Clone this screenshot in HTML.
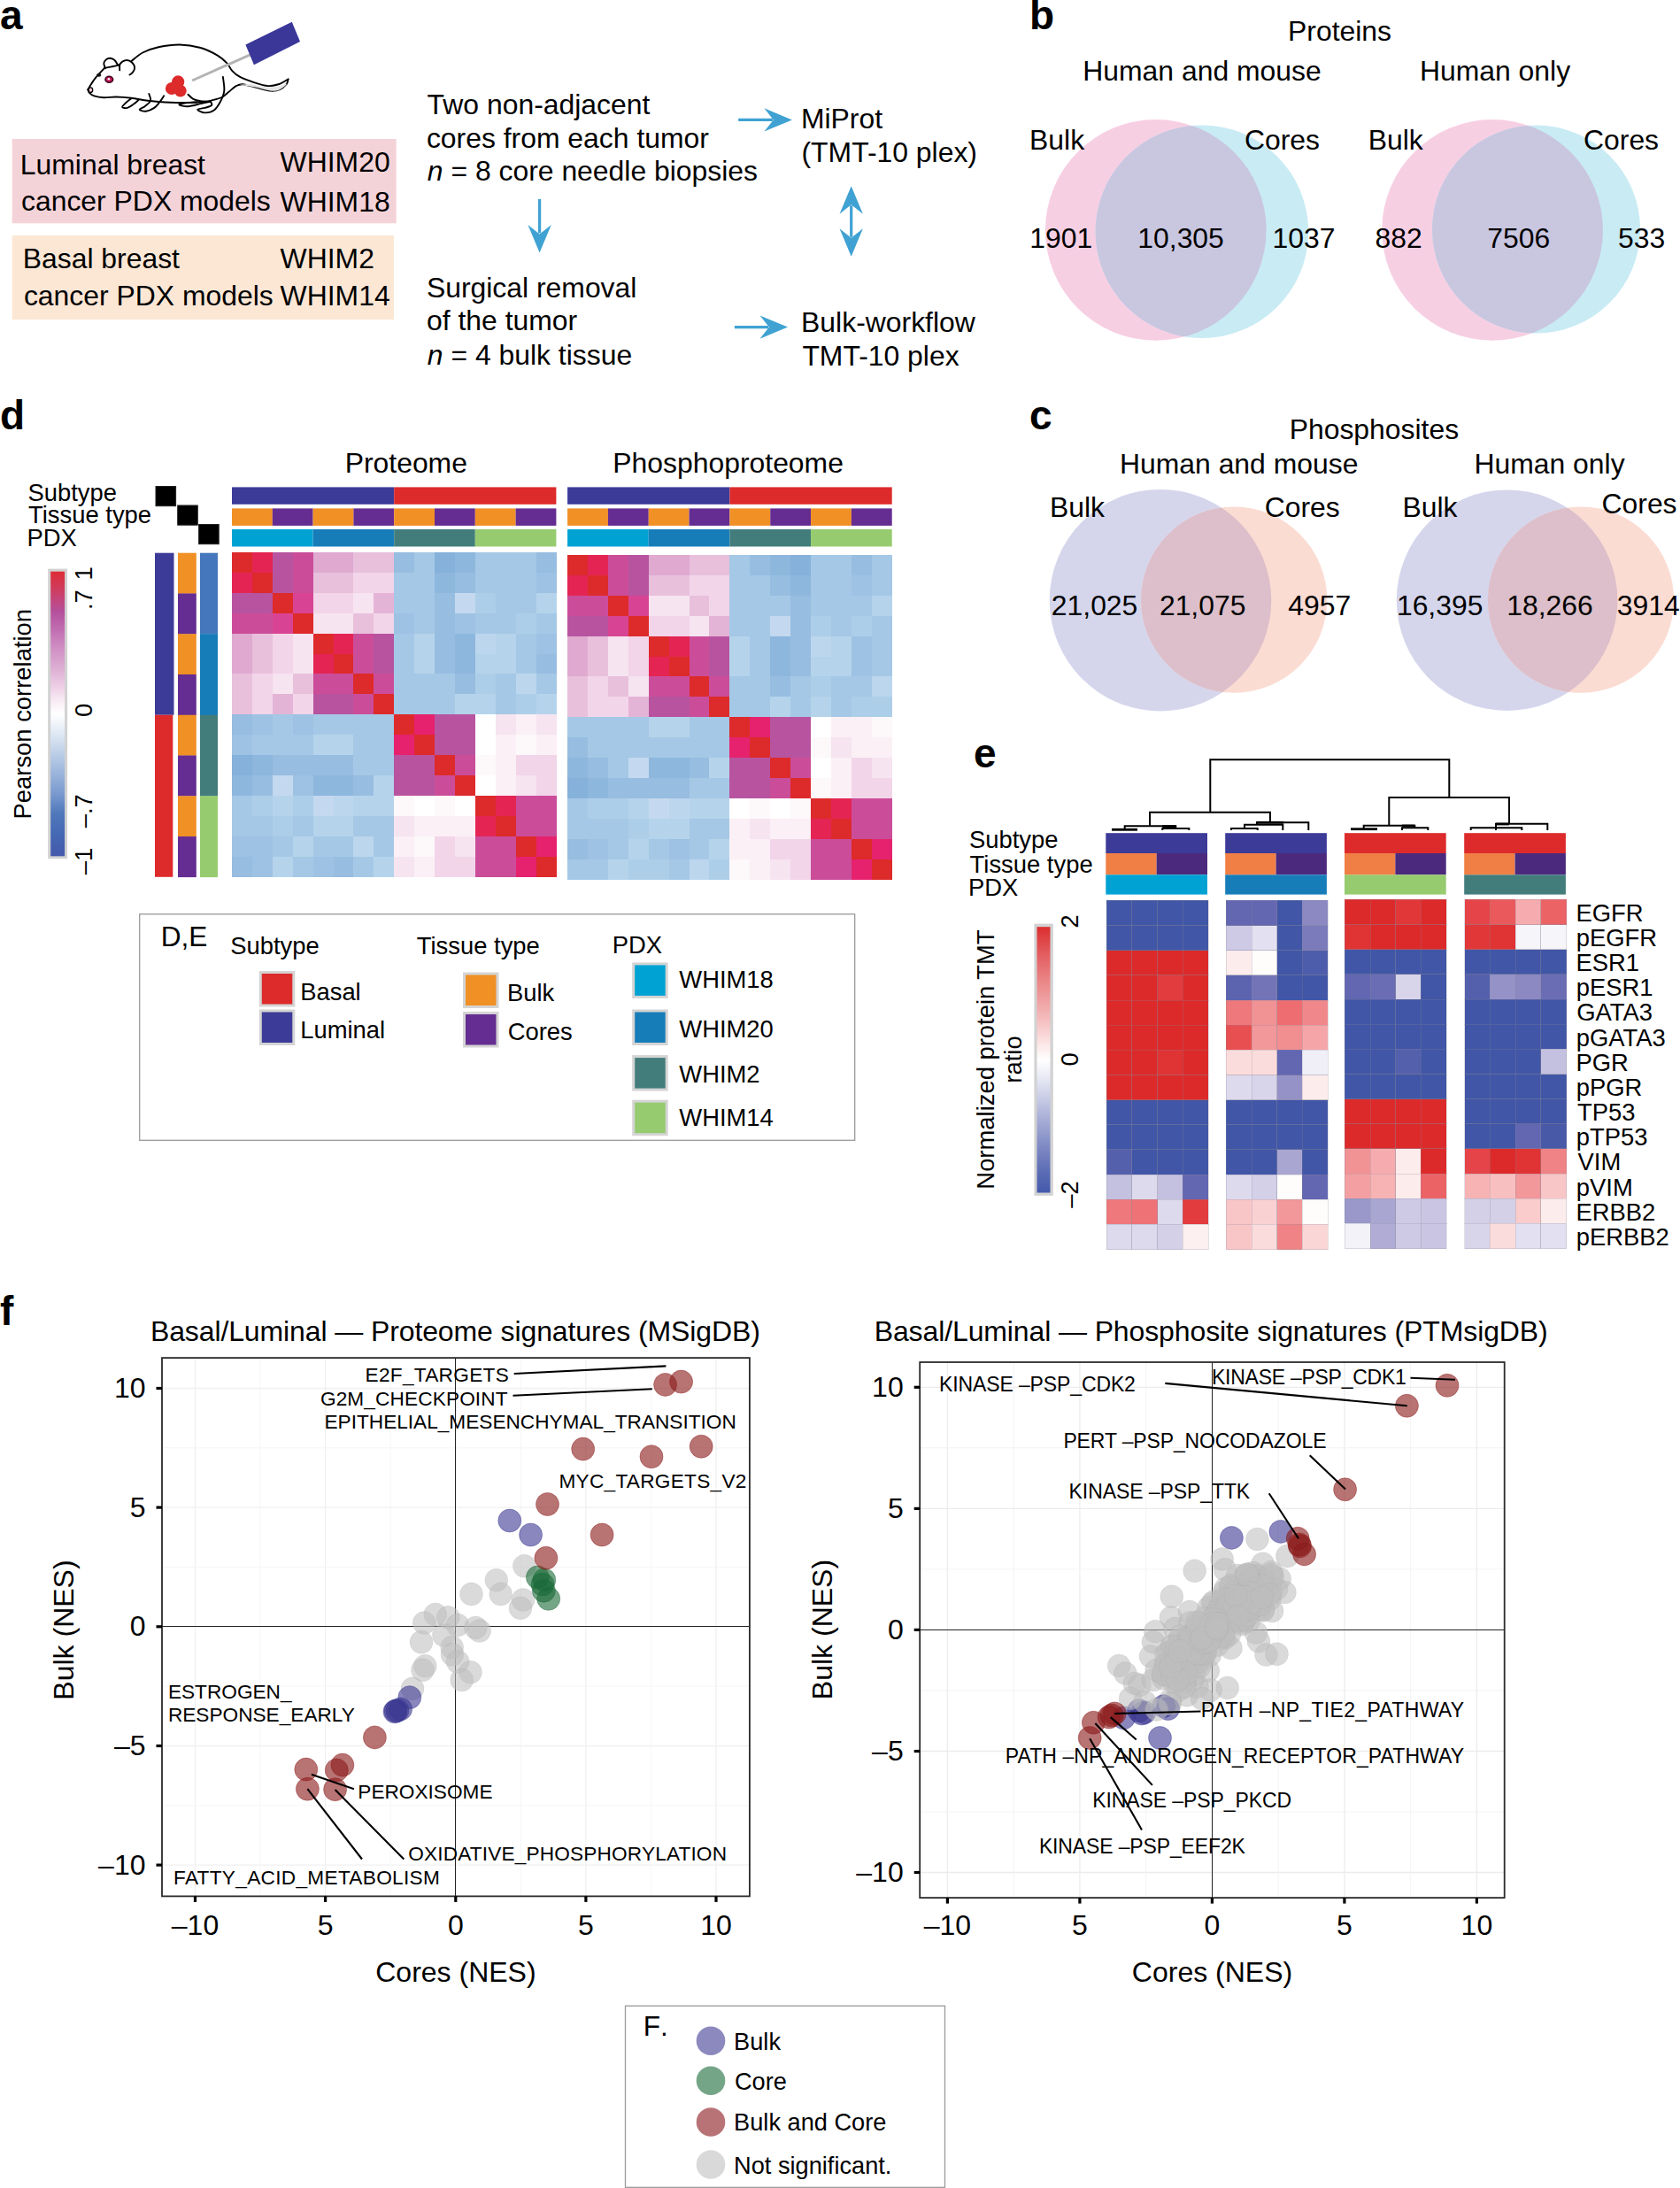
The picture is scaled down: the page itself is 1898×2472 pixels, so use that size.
<!DOCTYPE html>
<html lang="en"><head><meta charset="utf-8"><title>Figure</title>
<style>
html,body{margin:0;padding:0;background:#fff;}
body{width:1898px;height:2472px;overflow:hidden;}
svg{display:block;}
svg text{font-family:"Liberation Sans", sans-serif;}
</style></head><body>
<svg width="1898" height="2472" viewBox="0 0 1898 2472">
<rect width="1898" height="2472" fill="#fff"/>
<g id="panel-a">
<text x="0.0" y="32.9" font-size="46" font-weight="bold">a</text>
<path d="M99.3,101.2 C99.9,100.2 101.3,97.6 102.9,95.2 C104.4,92.9 106.2,90.0 108.8,86.9 C111.4,83.8 116.7,78.4 118.3,76.7" fill="none" stroke="#000" stroke-width="1.9" stroke-linecap="round" stroke-linejoin="round"/>
<path d="M119.0,77.4 C118.8,76.3 116.8,72.9 117.4,71.0 C117.9,69.0 120.4,66.5 122.4,66.0 C124.3,65.4 127.2,66.3 129.0,67.6 C130.9,68.9 132.6,72.8 133.3,73.8" fill="none" stroke="#000" stroke-width="1.9" stroke-linecap="round" stroke-linejoin="round"/>
<path d="M135.2,79.3 C135.3,78.1 134.6,74.0 135.7,72.1 C136.9,70.3 139.9,68.4 142.1,68.1 C144.4,67.8 147.4,69.0 149.0,70.5 C150.7,71.9 152.0,74.8 152.1,76.7 C152.3,78.5 151.0,80.4 150.0,81.7 C149.0,83.0 147.0,84.0 146.4,84.5" fill="none" stroke="#000" stroke-width="1.9" stroke-linecap="round" stroke-linejoin="round"/>
<path d="M119.5,76.7 C120.7,76.4 124.2,75.8 126.7,75.2 C129.1,74.7 133.0,73.7 134.3,73.3" fill="none" stroke="#000" stroke-width="1.9" stroke-linecap="round" stroke-linejoin="round"/>
<path d="M148.6,69.0 C150.7,67.5 156.1,62.1 161.2,59.5 C166.3,56.9 172.1,54.8 179.0,53.3 C186.0,51.8 194.9,50.4 202.9,50.5 C210.8,50.6 219.5,52.0 226.7,54.0 C233.8,56.1 240.8,59.7 245.7,62.6 C250.7,65.5 253.7,68.5 256.4,71.4 C259.2,74.4 260.0,77.7 262.4,80.2 C264.8,82.8 266.7,84.6 270.7,86.7 C274.7,88.8 280.8,91.1 286.2,92.9 C291.5,94.6 297.9,96.8 302.9,97.1 C307.8,97.5 312.2,96.0 316.0,94.8 C319.7,93.5 323.9,90.4 325.5,89.5" fill="none" stroke="#000" stroke-width="1.9" stroke-linecap="round" stroke-linejoin="round"/>
<path d="M325.5,89.5 C325.2,90.4 325.4,92.8 323.8,94.8 C322.2,96.7 319.0,99.9 316.0,101.2 C312.9,102.5 309.8,103.1 305.2,102.6 C300.7,102.2 293.7,99.8 288.6,98.6 C283.4,97.3 277.9,95.5 274.3,95.2 C270.6,95.0 269.2,95.8 266.7,97.1 C264.1,98.5 261.5,101.4 258.8,103.6 C256.1,105.7 253.5,108.5 250.5,110.0 C247.5,111.5 243.3,112.1 241.0,112.9 C238.6,113.6 237.0,114.0 236.2,114.3" fill="none" stroke="#000" stroke-width="1.9" stroke-linecap="round" stroke-linejoin="round"/>
<path d="M270.7,95.7 C273.7,96.2 282.8,97.4 288.6,98.6 C294.3,99.7 300.7,102.2 305.2,102.6 C309.8,103.1 312.9,102.5 316.0,101.2 C319.0,99.9 324.4,95.4 323.8,94.8 C323.2,94.2 316.7,97.1 312.4,97.6 C308.1,98.2 302.9,98.6 298.1,98.1 C293.3,97.6 286.2,95.3 283.8,94.8Z" fill="#e4e4e4" stroke="none"/>
<path d="M99.3,101.2 C99.6,101.8 99.8,103.6 101.0,104.8 C102.1,106.0 103.7,107.4 106.4,108.3 C109.1,109.2 113.0,110.0 117.1,110.2 C121.3,110.4 126.3,109.4 131.4,109.5 C136.6,109.6 142.1,110.0 148.1,110.7 C154.0,111.4 160.8,113.0 167.1,113.8 C173.5,114.6 178.3,115.1 186.2,115.5 C194.1,115.8 206.4,116.1 214.8,116.0 C223.1,115.8 232.6,114.8 236.2,114.5" fill="none" stroke="#000" stroke-width="1.9" stroke-linecap="round" stroke-linejoin="round"/>
<path d="M148.6,111.0 C147.5,111.8 143.9,114.5 142.1,116.2 C140.4,117.9 137.8,120.0 138.1,121.0 C138.4,121.9 141.5,122.5 143.8,121.9 C146.1,121.3 149.6,118.6 151.7,117.1 C153.8,115.7 155.6,113.8 156.4,113.1" fill="none" stroke="#000" stroke-width="1.9" stroke-linecap="round" stroke-linejoin="round"/>
<path d="M168.3,106.0 C168.6,107.3 170.8,111.4 170.0,113.8 C169.2,116.2 165.6,118.6 163.6,120.2 C161.5,121.9 157.4,122.9 157.6,123.8 C157.8,124.7 162.0,126.0 164.8,125.7 C167.5,125.4 171.7,123.6 174.3,121.9 C176.9,120.2 178.4,117.7 180.2,115.5 C182.1,113.2 184.4,109.5 185.2,108.3" fill="none" stroke="#000" stroke-width="1.9" stroke-linecap="round" stroke-linejoin="round"/>
<path d="M212.4,106.7 C213.4,107.5 216.0,110.6 218.3,111.9 C220.7,113.2 223.5,113.8 226.7,114.3 C229.8,114.8 235.6,114.7 237.4,114.8" fill="none" stroke="#000" stroke-width="1.9" stroke-linecap="round" stroke-linejoin="round"/>
<path d="M237.4,114.8 C235.6,115.2 230.8,116.2 226.7,117.1 C222.5,118.1 216.4,120.0 212.4,120.2 C208.3,120.4 202.8,119.0 202.4,118.3 C202.0,117.7 206.7,116.7 210.0,116.2 C213.3,115.7 219.9,115.6 221.9,115.5" fill="none" stroke="#000" stroke-width="1.9" stroke-linecap="round" stroke-linejoin="round"/>
<path d="M238.1,115.0 C238.3,115.7 240.2,117.9 239.0,119.0 C237.9,120.2 234.1,121.1 231.4,121.9 C228.8,122.7 223.1,122.9 223.1,123.8 C223.1,124.7 228.3,127.3 231.4,127.4 C234.6,127.5 239.2,126.5 242.1,124.3 C245.1,122.1 247.4,117.9 249.3,114.3 C251.2,110.6 252.9,106.9 253.3,102.4 C253.8,97.8 252.1,89.5 251.9,86.9" fill="none" stroke="#000" stroke-width="1.9" stroke-linecap="round" stroke-linejoin="round"/>
<ellipse cx="102.4" cy="101.7" rx="2.3" ry="2.8" fill="#f3c6d8" stroke="#000" stroke-width="1.3"/>
<ellipse cx="111.7" cy="84.8" rx="2.6" ry="2" fill="#111"/>
<ellipse cx="123.3" cy="89.8" rx="4.4" ry="3.5" fill="#c2185b" stroke="#3a0a1e" stroke-width="1.5"/>
<circle cx="122.9" cy="89.3" r="1.3" fill="#fff"/>
<circle cx="201.2" cy="92.4" r="7.1" fill="#dd2a2b"/>
<circle cx="194.0" cy="100.0" r="7.1" fill="#dd2a2b"/>
<circle cx="203.8" cy="102.6" r="6.9" fill="#dd2a2b"/>
<circle cx="199.5" cy="98.3" r="7.4" fill="#dd2a2b"/>
<line x1="217.1" y1="91.0" x2="282.6" y2="61.9" stroke="#b3b3b3" stroke-width="3"/>
<polygon points="329.8,24.8 339.0,47.1 286.9,73.3 277.4,50.5" fill="#3a3799"/>
<rect x="13.70" y="157.00" width="434.00" height="95.30" fill="#f4d3d8"/>
<rect x="13.70" y="266.00" width="431.40" height="95.20" fill="#fce7d5"/>
<text x="22.8" y="196.7" font-size="31.9">Luminal breast</text>
<text x="316.6" y="194.3" font-size="31.9">WHIM20</text>
<text x="24.0" y="238.0" font-size="31.9">cancer PDX models</text>
<text x="316.6" y="238.8" font-size="31.9">WHIM18</text>
<text x="25.7" y="302.8" font-size="31.9">Basal breast</text>
<text x="316.6" y="303.2" font-size="31.9">WHIM2</text>
<text x="26.9" y="344.7" font-size="31.9">cancer PDX models</text>
<text x="316.6" y="345.2" font-size="31.9">WHIM14</text>
<text x="482.6" y="129.2" font-size="31.9">Two non-adjacent</text>
<text x="481.9" y="166.7" font-size="31.9">cores from each tumor</text>
<text x="482.8" y="204.4" font-size="31.9"><tspan font-style="italic">n</tspan> = 8 core needle biopsies</text>
<text x="481.9" y="335.5" font-size="31.9">Surgical removal</text>
<text x="482.0" y="373.3" font-size="31.9">of the tumor</text>
<text x="482.8" y="411.5" font-size="31.9"><tspan font-style="italic">n</tspan> = 4 bulk tissue</text>
<text x="904.9" y="144.6" font-size="31.9">MiProt</text>
<text x="905.5" y="183.3" font-size="31.9">(TMT-10 plex)</text>
<text x="905.1" y="375.0" font-size="31.9">Bulk-workflow</text>
<text x="906.4" y="412.5" font-size="31.9">TMT-10 plex</text>
<line x1="834.2" y1="135.4" x2="872.9" y2="135.4" stroke="#3fa2d2" stroke-width="3.2"/>
<path d="M894.9,135.4 L863.4,148.6 L873.8,135.4 L863.4,122.2Z" fill="#3fa2d2"/>
<line x1="829.9" y1="369.6" x2="868.0" y2="369.6" stroke="#3fa2d2" stroke-width="3.2"/>
<path d="M890.0,369.6 L858.5,382.8 L868.9,369.6 L858.5,356.4Z" fill="#3fa2d2"/>
<line x1="609.6" y1="225.0" x2="609.6" y2="263.4" stroke="#3fa2d2" stroke-width="3.2"/>
<path d="M609.6,285.5 L596.4,254.0 L609.6,264.4 L622.8,254.0Z" fill="#3fa2d2"/>
<path d="M961.7,289.8 L974.9,258.3 L961.7,268.7 L948.5,258.3Z" fill="#3fa2d2"/>
<line x1="961.7" y1="267.8" x2="961.7" y2="232.2" stroke="#3fa2d2" stroke-width="3.2"/>
<path d="M961.7,210.2 L974.9,241.7 L961.7,231.3 L948.5,241.7Z" fill="#3fa2d2"/>
</g>
<g id="panel-b">
<text x="1163.0" y="32.9" font-size="46" font-weight="bold">b</text>
<text x="1513.5" y="45.7" font-size="31.9" text-anchor="middle">Proteins</text>
<text x="1358.0" y="90.5" font-size="31.9" text-anchor="middle">Human and mouse</text>
<text x="1689.0" y="90.5" font-size="31.9" text-anchor="middle">Human only</text>
<clipPath id="vc1"><circle cx="1305.8" cy="259.9" r="124.8"/></clipPath>
<circle cx="1305.8" cy="259.9" r="124.8" fill="#f7cfe3"/>
<circle cx="1357.9" cy="261.7" r="120.3" fill="#c9ebf4"/>
<circle cx="1357.9" cy="261.7" r="120.3" fill="#c9c6e0" clip-path="url(#vc1)"/>
<clipPath id="vc2"><circle cx="1686.1" cy="259.9" r="124.8"/></clipPath>
<circle cx="1686.1" cy="259.9" r="124.8" fill="#f7cfe3"/>
<circle cx="1735.5" cy="259.0" r="117.5" fill="#c9ebf4"/>
<circle cx="1735.5" cy="259.0" r="117.5" fill="#c9c6e0" clip-path="url(#vc2)"/>
<text x="1163.1" y="169.1" font-size="31.9">Bulk</text>
<text x="1405.9" y="169.1" font-size="31.9">Cores</text>
<text x="1545.7" y="169.1" font-size="31.9">Bulk</text>
<text x="1789.0" y="169.1" font-size="31.9">Cores</text>
<text x="1163.3" y="280.4" font-size="31.9">1901</text>
<text x="1285.3" y="280.4" font-size="31.9">10,305</text>
<text x="1437.6" y="280.4" font-size="31.9">1037</text>
<text x="1553.6" y="280.4" font-size="31.9">882</text>
<text x="1680.2" y="280.4" font-size="31.9">7506</text>
<text x="1828.1" y="280.4" font-size="31.9">533</text>
</g>
<g id="panel-c">
<text x="1163.0" y="485.0" font-size="46" font-weight="bold">c</text>
<text x="1552.4" y="495.8" font-size="31.9" text-anchor="middle">Phosphosites</text>
<text x="1399.7" y="534.6" font-size="31.9" text-anchor="middle">Human and mouse</text>
<text x="1750.5" y="534.6" font-size="31.9" text-anchor="middle">Human only</text>
<clipPath id="vc3"><circle cx="1311" cy="678.2" r="125.3"/></clipPath>
<circle cx="1311" cy="678.2" r="125.3" fill="#d5d6ec"/>
<circle cx="1394.2" cy="677.7" r="105.1" fill="#fbdcd3"/>
<circle cx="1394.2" cy="677.7" r="105.1" fill="#dcbfca" clip-path="url(#vc3)"/>
<clipPath id="vc4"><circle cx="1702.6" cy="678.2" r="124.8"/></clipPath>
<circle cx="1702.6" cy="678.2" r="124.8" fill="#d5d6ec"/>
<circle cx="1786" cy="677.7" r="105.1" fill="#fbdcd3"/>
<circle cx="1786" cy="677.7" r="105.1" fill="#dcbfca" clip-path="url(#vc4)"/>
<text x="1185.9" y="584.0" font-size="31.9">Bulk</text>
<text x="1428.7" y="584.0" font-size="31.9">Cores</text>
<text x="1584.5" y="584.0" font-size="31.9">Bulk</text>
<text x="1809.5" y="580.3" font-size="31.9">Cores</text>
<text x="1187.8" y="694.6" font-size="31.9">21,025</text>
<text x="1309.9" y="694.6" font-size="31.9">21,075</text>
<text x="1455.3" y="694.6" font-size="31.9">4957</text>
<text x="1577.9" y="694.6" font-size="31.9">16,395</text>
<text x="1702.2" y="694.6" font-size="31.9">18,266</text>
<text x="1826.8" y="694.6" font-size="31.9">3914</text>
</g>
<g id="panel-d">
<text x="0.0" y="484.8" font-size="46" font-weight="bold">d</text>
<text x="458.8" y="534.1" font-size="31.9" text-anchor="middle">Proteome</text>
<text x="822.6" y="534.1" font-size="31.9" text-anchor="middle">Phosphoproteome</text>
<text x="31.4" y="566.0" font-size="27.4">Subtype</text>
<text x="32.0" y="591.4" font-size="27.4">Tissue type</text>
<text x="30.4" y="616.8" font-size="27.4">PDX</text>
<rect x="176.00" y="549.50" width="22.60" height="22.20" fill="#000" stroke="#222" stroke-width="1"/>
<rect x="200.70" y="571.00" width="22.60" height="22.20" fill="#000" stroke="#222" stroke-width="1"/>
<rect x="224.60" y="592.50" width="22.60" height="22.20" fill="#000" stroke="#222" stroke-width="1"/>
<rect x="262.00" y="550.40" width="183.20" height="19.40" fill="#3d3b98"/>
<rect x="445.20" y="550.40" width="183.20" height="19.40" fill="#dd2a2b"/>
<rect x="262.00" y="574.40" width="45.80" height="19.50" fill="#f09025"/>
<rect x="307.80" y="574.40" width="45.80" height="19.50" fill="#652d92"/>
<rect x="353.60" y="574.40" width="45.80" height="19.50" fill="#f09025"/>
<rect x="399.40" y="574.40" width="45.80" height="19.50" fill="#652d92"/>
<rect x="445.20" y="574.40" width="45.80" height="19.50" fill="#f09025"/>
<rect x="491.00" y="574.40" width="45.80" height="19.50" fill="#652d92"/>
<rect x="536.80" y="574.40" width="45.80" height="19.50" fill="#f09025"/>
<rect x="582.60" y="574.40" width="45.80" height="19.50" fill="#652d92"/>
<rect x="262.00" y="598.00" width="91.60" height="19.50" fill="#00a2d3"/>
<rect x="353.60" y="598.00" width="91.60" height="19.50" fill="#177db9"/>
<rect x="445.20" y="598.00" width="91.60" height="19.50" fill="#427d7c"/>
<rect x="536.80" y="598.00" width="91.60" height="19.50" fill="#96cb6f"/>
<rect x="641.10" y="550.40" width="183.30" height="19.40" fill="#3d3b98"/>
<rect x="824.40" y="550.40" width="183.30" height="19.40" fill="#dd2a2b"/>
<rect x="641.10" y="574.40" width="45.83" height="19.50" fill="#f09025"/>
<rect x="686.93" y="574.40" width="45.83" height="19.50" fill="#652d92"/>
<rect x="732.75" y="574.40" width="45.83" height="19.50" fill="#f09025"/>
<rect x="778.58" y="574.40" width="45.83" height="19.50" fill="#652d92"/>
<rect x="824.40" y="574.40" width="45.83" height="19.50" fill="#f09025"/>
<rect x="870.23" y="574.40" width="45.83" height="19.50" fill="#652d92"/>
<rect x="916.05" y="574.40" width="45.83" height="19.50" fill="#f09025"/>
<rect x="961.88" y="574.40" width="45.83" height="19.50" fill="#652d92"/>
<rect x="641.10" y="598.00" width="91.65" height="19.50" fill="#00a2d3"/>
<rect x="732.75" y="598.00" width="91.65" height="19.50" fill="#177db9"/>
<rect x="824.40" y="598.00" width="91.65" height="19.50" fill="#427d7c"/>
<rect x="916.05" y="598.00" width="91.65" height="19.50" fill="#96cb6f"/>
<g shape-rendering="crispEdges">
<rect x="262.00" y="624.00" width="23.40" height="23.40" fill="#dd2a2b"/>
<rect x="284.90" y="624.00" width="23.40" height="23.40" fill="#e42554"/>
<rect x="307.80" y="624.00" width="23.40" height="23.40" fill="#b8549f"/>
<rect x="330.70" y="624.00" width="23.40" height="23.40" fill="#cb4d9a"/>
<rect x="353.60" y="624.00" width="23.40" height="23.40" fill="#dfa9d0"/>
<rect x="376.50" y="624.00" width="23.40" height="23.40" fill="#dfa9d0"/>
<rect x="399.40" y="624.00" width="23.40" height="23.40" fill="#e8c0dc"/>
<rect x="422.30" y="624.00" width="23.40" height="23.40" fill="#e8c0dc"/>
<rect x="445.20" y="624.00" width="23.40" height="23.40" fill="#97bde0"/>
<rect x="468.10" y="624.00" width="23.40" height="23.40" fill="#a5c8e6"/>
<rect x="491.00" y="624.00" width="23.40" height="23.40" fill="#85b1da"/>
<rect x="513.90" y="624.00" width="23.40" height="23.40" fill="#8eb7dd"/>
<rect x="536.80" y="624.00" width="23.40" height="23.40" fill="#a5c8e6"/>
<rect x="559.70" y="624.00" width="23.40" height="23.40" fill="#a5c8e6"/>
<rect x="582.60" y="624.00" width="23.40" height="23.40" fill="#a5c8e6"/>
<rect x="605.50" y="624.00" width="23.40" height="23.40" fill="#97bde0"/>
<rect x="262.00" y="646.90" width="23.40" height="23.40" fill="#e42554"/>
<rect x="284.90" y="646.90" width="23.40" height="23.40" fill="#dd2a2b"/>
<rect x="307.80" y="646.90" width="23.40" height="23.40" fill="#b8549f"/>
<rect x="330.70" y="646.90" width="23.40" height="23.40" fill="#cb4d9a"/>
<rect x="353.60" y="646.90" width="23.40" height="23.40" fill="#e8c0dc"/>
<rect x="376.50" y="646.90" width="23.40" height="23.40" fill="#e8c0dc"/>
<rect x="399.40" y="646.90" width="23.40" height="23.40" fill="#f2d5e9"/>
<rect x="422.30" y="646.90" width="23.40" height="23.40" fill="#f2d5e9"/>
<rect x="445.20" y="646.90" width="23.40" height="23.40" fill="#a5c8e6"/>
<rect x="468.10" y="646.90" width="23.40" height="23.40" fill="#a5c8e6"/>
<rect x="491.00" y="646.90" width="23.40" height="23.40" fill="#8eb7dd"/>
<rect x="513.90" y="646.90" width="23.40" height="23.40" fill="#97bde0"/>
<rect x="536.80" y="646.90" width="23.40" height="23.40" fill="#a5c8e6"/>
<rect x="559.70" y="646.90" width="23.40" height="23.40" fill="#a5c8e6"/>
<rect x="582.60" y="646.90" width="23.40" height="23.40" fill="#a5c8e6"/>
<rect x="605.50" y="646.90" width="23.40" height="23.40" fill="#9ec2e3"/>
<rect x="262.00" y="669.80" width="23.40" height="23.40" fill="#b8549f"/>
<rect x="284.90" y="669.80" width="23.40" height="23.40" fill="#b8549f"/>
<rect x="307.80" y="669.80" width="23.40" height="23.40" fill="#dd2a2b"/>
<rect x="330.70" y="669.80" width="23.40" height="23.40" fill="#d84493"/>
<rect x="353.60" y="669.80" width="23.40" height="23.40" fill="#f2d5e9"/>
<rect x="376.50" y="669.80" width="23.40" height="23.40" fill="#f2d5e9"/>
<rect x="399.40" y="669.80" width="23.40" height="23.40" fill="#f6e4f0"/>
<rect x="422.30" y="669.80" width="23.40" height="23.40" fill="#e4b4d6"/>
<rect x="445.20" y="669.80" width="23.40" height="23.40" fill="#a5c8e6"/>
<rect x="468.10" y="669.80" width="23.40" height="23.40" fill="#a5c8e6"/>
<rect x="491.00" y="669.80" width="23.40" height="23.40" fill="#97bde0"/>
<rect x="513.90" y="669.80" width="23.40" height="23.40" fill="#c4d9ef"/>
<rect x="536.80" y="669.80" width="23.40" height="23.40" fill="#adcee9"/>
<rect x="559.70" y="669.80" width="23.40" height="23.40" fill="#a5c8e6"/>
<rect x="582.60" y="669.80" width="23.40" height="23.40" fill="#a5c8e6"/>
<rect x="605.50" y="669.80" width="23.40" height="23.40" fill="#b5d4ec"/>
<rect x="262.00" y="692.70" width="23.40" height="23.40" fill="#cb4d9a"/>
<rect x="284.90" y="692.70" width="23.40" height="23.40" fill="#cb4d9a"/>
<rect x="307.80" y="692.70" width="23.40" height="23.40" fill="#d84493"/>
<rect x="330.70" y="692.70" width="23.40" height="23.40" fill="#dd2a2b"/>
<rect x="353.60" y="692.70" width="23.40" height="23.40" fill="#f6e4f0"/>
<rect x="376.50" y="692.70" width="23.40" height="23.40" fill="#f6e4f0"/>
<rect x="399.40" y="692.70" width="23.40" height="23.40" fill="#e8c0dc"/>
<rect x="422.30" y="692.70" width="23.40" height="23.40" fill="#f2d5e9"/>
<rect x="445.20" y="692.70" width="23.40" height="23.40" fill="#9ec2e3"/>
<rect x="468.10" y="692.70" width="23.40" height="23.40" fill="#a5c8e6"/>
<rect x="491.00" y="692.70" width="23.40" height="23.40" fill="#97bde0"/>
<rect x="513.90" y="692.70" width="23.40" height="23.40" fill="#9ec2e3"/>
<rect x="536.80" y="692.70" width="23.40" height="23.40" fill="#a5c8e6"/>
<rect x="559.70" y="692.70" width="23.40" height="23.40" fill="#a5c8e6"/>
<rect x="582.60" y="692.70" width="23.40" height="23.40" fill="#adcee9"/>
<rect x="605.50" y="692.70" width="23.40" height="23.40" fill="#a5c8e6"/>
<rect x="262.00" y="715.60" width="23.40" height="23.40" fill="#dfa9d0"/>
<rect x="284.90" y="715.60" width="23.40" height="23.40" fill="#e8c0dc"/>
<rect x="307.80" y="715.60" width="23.40" height="23.40" fill="#f2d5e9"/>
<rect x="330.70" y="715.60" width="23.40" height="23.40" fill="#f6e4f0"/>
<rect x="353.60" y="715.60" width="23.40" height="23.40" fill="#dd2a2b"/>
<rect x="376.50" y="715.60" width="23.40" height="23.40" fill="#e42554"/>
<rect x="399.40" y="715.60" width="23.40" height="23.40" fill="#cb4d9a"/>
<rect x="422.30" y="715.60" width="23.40" height="23.40" fill="#b8549f"/>
<rect x="445.20" y="715.60" width="23.40" height="23.40" fill="#a5c8e6"/>
<rect x="468.10" y="715.60" width="23.40" height="23.40" fill="#b5d4ec"/>
<rect x="491.00" y="715.60" width="23.40" height="23.40" fill="#97bde0"/>
<rect x="513.90" y="715.60" width="23.40" height="23.40" fill="#8eb7dd"/>
<rect x="536.80" y="715.60" width="23.40" height="23.40" fill="#bcd6ee"/>
<rect x="559.70" y="715.60" width="23.40" height="23.40" fill="#b5d4ec"/>
<rect x="582.60" y="715.60" width="23.40" height="23.40" fill="#a5c8e6"/>
<rect x="605.50" y="715.60" width="23.40" height="23.40" fill="#9ec2e3"/>
<rect x="262.00" y="738.50" width="23.40" height="23.40" fill="#dfa9d0"/>
<rect x="284.90" y="738.50" width="23.40" height="23.40" fill="#e8c0dc"/>
<rect x="307.80" y="738.50" width="23.40" height="23.40" fill="#f2d5e9"/>
<rect x="330.70" y="738.50" width="23.40" height="23.40" fill="#f6e4f0"/>
<rect x="353.60" y="738.50" width="23.40" height="23.40" fill="#e42554"/>
<rect x="376.50" y="738.50" width="23.40" height="23.40" fill="#dd2a2b"/>
<rect x="399.40" y="738.50" width="23.40" height="23.40" fill="#cb4d9a"/>
<rect x="422.30" y="738.50" width="23.40" height="23.40" fill="#b8549f"/>
<rect x="445.20" y="738.50" width="23.40" height="23.40" fill="#a5c8e6"/>
<rect x="468.10" y="738.50" width="23.40" height="23.40" fill="#b5d4ec"/>
<rect x="491.00" y="738.50" width="23.40" height="23.40" fill="#97bde0"/>
<rect x="513.90" y="738.50" width="23.40" height="23.40" fill="#8eb7dd"/>
<rect x="536.80" y="738.50" width="23.40" height="23.40" fill="#b5d4ec"/>
<rect x="559.70" y="738.50" width="23.40" height="23.40" fill="#b5d4ec"/>
<rect x="582.60" y="738.50" width="23.40" height="23.40" fill="#a5c8e6"/>
<rect x="605.50" y="738.50" width="23.40" height="23.40" fill="#97bde0"/>
<rect x="262.00" y="761.40" width="23.40" height="23.40" fill="#e8c0dc"/>
<rect x="284.90" y="761.40" width="23.40" height="23.40" fill="#f2d5e9"/>
<rect x="307.80" y="761.40" width="23.40" height="23.40" fill="#f6e4f0"/>
<rect x="330.70" y="761.40" width="23.40" height="23.40" fill="#e8c0dc"/>
<rect x="353.60" y="761.40" width="23.40" height="23.40" fill="#cb4d9a"/>
<rect x="376.50" y="761.40" width="23.40" height="23.40" fill="#cb4d9a"/>
<rect x="399.40" y="761.40" width="23.40" height="23.40" fill="#dd2a2b"/>
<rect x="422.30" y="761.40" width="23.40" height="23.40" fill="#cb4d9a"/>
<rect x="445.20" y="761.40" width="23.40" height="23.40" fill="#a5c8e6"/>
<rect x="468.10" y="761.40" width="23.40" height="23.40" fill="#a5c8e6"/>
<rect x="491.00" y="761.40" width="23.40" height="23.40" fill="#a5c8e6"/>
<rect x="513.90" y="761.40" width="23.40" height="23.40" fill="#97bde0"/>
<rect x="536.80" y="761.40" width="23.40" height="23.40" fill="#adcee9"/>
<rect x="559.70" y="761.40" width="23.40" height="23.40" fill="#a5c8e6"/>
<rect x="582.60" y="761.40" width="23.40" height="23.40" fill="#bcd6ee"/>
<rect x="605.50" y="761.40" width="23.40" height="23.40" fill="#a5c8e6"/>
<rect x="262.00" y="784.30" width="23.40" height="23.40" fill="#e8c0dc"/>
<rect x="284.90" y="784.30" width="23.40" height="23.40" fill="#f2d5e9"/>
<rect x="307.80" y="784.30" width="23.40" height="23.40" fill="#e4b4d6"/>
<rect x="330.70" y="784.30" width="23.40" height="23.40" fill="#f2d5e9"/>
<rect x="353.60" y="784.30" width="23.40" height="23.40" fill="#b8549f"/>
<rect x="376.50" y="784.30" width="23.40" height="23.40" fill="#b8549f"/>
<rect x="399.40" y="784.30" width="23.40" height="23.40" fill="#cb4d9a"/>
<rect x="422.30" y="784.30" width="23.40" height="23.40" fill="#dd2a2b"/>
<rect x="445.20" y="784.30" width="23.40" height="23.40" fill="#a5c8e6"/>
<rect x="468.10" y="784.30" width="23.40" height="23.40" fill="#a5c8e6"/>
<rect x="491.00" y="784.30" width="23.40" height="23.40" fill="#a5c8e6"/>
<rect x="513.90" y="784.30" width="23.40" height="23.40" fill="#b5d4ec"/>
<rect x="536.80" y="784.30" width="23.40" height="23.40" fill="#b5d4ec"/>
<rect x="559.70" y="784.30" width="23.40" height="23.40" fill="#a5c8e6"/>
<rect x="582.60" y="784.30" width="23.40" height="23.40" fill="#adcee9"/>
<rect x="605.50" y="784.30" width="23.40" height="23.40" fill="#b5d4ec"/>
<rect x="262.00" y="807.20" width="23.40" height="23.40" fill="#97bde0"/>
<rect x="284.90" y="807.20" width="23.40" height="23.40" fill="#9ec2e3"/>
<rect x="307.80" y="807.20" width="23.40" height="23.40" fill="#a5c8e6"/>
<rect x="330.70" y="807.20" width="23.40" height="23.40" fill="#9ec2e3"/>
<rect x="353.60" y="807.20" width="23.40" height="23.40" fill="#a5c8e6"/>
<rect x="376.50" y="807.20" width="23.40" height="23.40" fill="#a5c8e6"/>
<rect x="399.40" y="807.20" width="23.40" height="23.40" fill="#a5c8e6"/>
<rect x="422.30" y="807.20" width="23.40" height="23.40" fill="#a5c8e6"/>
<rect x="445.20" y="807.20" width="23.40" height="23.40" fill="#dd2a2b"/>
<rect x="468.10" y="807.20" width="23.40" height="23.40" fill="#e6226e"/>
<rect x="491.00" y="807.20" width="23.40" height="23.40" fill="#b8549f"/>
<rect x="513.90" y="807.20" width="23.40" height="23.40" fill="#b8549f"/>
<rect x="536.80" y="807.20" width="23.40" height="23.40" fill="#ffffff"/>
<rect x="559.70" y="807.20" width="23.40" height="23.40" fill="#f6e4f0"/>
<rect x="582.60" y="807.20" width="23.40" height="23.40" fill="#fbf0f5"/>
<rect x="605.50" y="807.20" width="23.40" height="23.40" fill="#f6e4f0"/>
<rect x="262.00" y="830.10" width="23.40" height="23.40" fill="#9ec2e3"/>
<rect x="284.90" y="830.10" width="23.40" height="23.40" fill="#a5c8e6"/>
<rect x="307.80" y="830.10" width="23.40" height="23.40" fill="#a5c8e6"/>
<rect x="330.70" y="830.10" width="23.40" height="23.40" fill="#a5c8e6"/>
<rect x="353.60" y="830.10" width="23.40" height="23.40" fill="#b5d4ec"/>
<rect x="376.50" y="830.10" width="23.40" height="23.40" fill="#b5d4ec"/>
<rect x="399.40" y="830.10" width="23.40" height="23.40" fill="#a5c8e6"/>
<rect x="422.30" y="830.10" width="23.40" height="23.40" fill="#a5c8e6"/>
<rect x="445.20" y="830.10" width="23.40" height="23.40" fill="#e6226e"/>
<rect x="468.10" y="830.10" width="23.40" height="23.40" fill="#dd2a2b"/>
<rect x="491.00" y="830.10" width="23.40" height="23.40" fill="#b8549f"/>
<rect x="513.90" y="830.10" width="23.40" height="23.40" fill="#b8549f"/>
<rect x="536.80" y="830.10" width="23.40" height="23.40" fill="#ffffff"/>
<rect x="559.70" y="830.10" width="23.40" height="23.40" fill="#fbf0f5"/>
<rect x="582.60" y="830.10" width="23.40" height="23.40" fill="#fdf8fa"/>
<rect x="605.50" y="830.10" width="23.40" height="23.40" fill="#fbf0f5"/>
<rect x="262.00" y="853.00" width="23.40" height="23.40" fill="#85b1da"/>
<rect x="284.90" y="853.00" width="23.40" height="23.40" fill="#8eb7dd"/>
<rect x="307.80" y="853.00" width="23.40" height="23.40" fill="#97bde0"/>
<rect x="330.70" y="853.00" width="23.40" height="23.40" fill="#97bde0"/>
<rect x="353.60" y="853.00" width="23.40" height="23.40" fill="#97bde0"/>
<rect x="376.50" y="853.00" width="23.40" height="23.40" fill="#97bde0"/>
<rect x="399.40" y="853.00" width="23.40" height="23.40" fill="#a5c8e6"/>
<rect x="422.30" y="853.00" width="23.40" height="23.40" fill="#a5c8e6"/>
<rect x="445.20" y="853.00" width="23.40" height="23.40" fill="#b8549f"/>
<rect x="468.10" y="853.00" width="23.40" height="23.40" fill="#b8549f"/>
<rect x="491.00" y="853.00" width="23.40" height="23.40" fill="#dd2a2b"/>
<rect x="513.90" y="853.00" width="23.40" height="23.40" fill="#cb4d9a"/>
<rect x="536.80" y="853.00" width="23.40" height="23.40" fill="#fdf8fa"/>
<rect x="559.70" y="853.00" width="23.40" height="23.40" fill="#fbf0f5"/>
<rect x="582.60" y="853.00" width="23.40" height="23.40" fill="#f2d5e9"/>
<rect x="605.50" y="853.00" width="23.40" height="23.40" fill="#f2d5e9"/>
<rect x="262.00" y="875.90" width="23.40" height="23.40" fill="#8eb7dd"/>
<rect x="284.90" y="875.90" width="23.40" height="23.40" fill="#97bde0"/>
<rect x="307.80" y="875.90" width="23.40" height="23.40" fill="#c4d9ef"/>
<rect x="330.70" y="875.90" width="23.40" height="23.40" fill="#9ec2e3"/>
<rect x="353.60" y="875.90" width="23.40" height="23.40" fill="#8eb7dd"/>
<rect x="376.50" y="875.90" width="23.40" height="23.40" fill="#8eb7dd"/>
<rect x="399.40" y="875.90" width="23.40" height="23.40" fill="#97bde0"/>
<rect x="422.30" y="875.90" width="23.40" height="23.40" fill="#b5d4ec"/>
<rect x="445.20" y="875.90" width="23.40" height="23.40" fill="#b8549f"/>
<rect x="468.10" y="875.90" width="23.40" height="23.40" fill="#b8549f"/>
<rect x="491.00" y="875.90" width="23.40" height="23.40" fill="#cb4d9a"/>
<rect x="513.90" y="875.90" width="23.40" height="23.40" fill="#dd2a2b"/>
<rect x="536.80" y="875.90" width="23.40" height="23.40" fill="#ffffff"/>
<rect x="559.70" y="875.90" width="23.40" height="23.40" fill="#fbf0f5"/>
<rect x="582.60" y="875.90" width="23.40" height="23.40" fill="#f6e4f0"/>
<rect x="605.50" y="875.90" width="23.40" height="23.40" fill="#f2d5e9"/>
<rect x="262.00" y="898.80" width="23.40" height="23.40" fill="#a5c8e6"/>
<rect x="284.90" y="898.80" width="23.40" height="23.40" fill="#adcee9"/>
<rect x="307.80" y="898.80" width="23.40" height="23.40" fill="#b5d4ec"/>
<rect x="330.70" y="898.80" width="23.40" height="23.40" fill="#adcee9"/>
<rect x="353.60" y="898.80" width="23.40" height="23.40" fill="#c4d9ef"/>
<rect x="376.50" y="898.80" width="23.40" height="23.40" fill="#bcd6ee"/>
<rect x="399.40" y="898.80" width="23.40" height="23.40" fill="#b5d4ec"/>
<rect x="422.30" y="898.80" width="23.40" height="23.40" fill="#b5d4ec"/>
<rect x="445.20" y="898.80" width="23.40" height="23.40" fill="#fdf8fa"/>
<rect x="468.10" y="898.80" width="23.40" height="23.40" fill="#ffffff"/>
<rect x="491.00" y="898.80" width="23.40" height="23.40" fill="#fdf8fa"/>
<rect x="513.90" y="898.80" width="23.40" height="23.40" fill="#ffffff"/>
<rect x="536.80" y="898.80" width="23.40" height="23.40" fill="#dd2a2b"/>
<rect x="559.70" y="898.80" width="23.40" height="23.40" fill="#e42554"/>
<rect x="582.60" y="898.80" width="23.40" height="23.40" fill="#cb4d9a"/>
<rect x="605.50" y="898.80" width="23.40" height="23.40" fill="#cb4d9a"/>
<rect x="262.00" y="921.70" width="23.40" height="23.40" fill="#a5c8e6"/>
<rect x="284.90" y="921.70" width="23.40" height="23.40" fill="#a5c8e6"/>
<rect x="307.80" y="921.70" width="23.40" height="23.40" fill="#adcee9"/>
<rect x="330.70" y="921.70" width="23.40" height="23.40" fill="#a5c8e6"/>
<rect x="353.60" y="921.70" width="23.40" height="23.40" fill="#b5d4ec"/>
<rect x="376.50" y="921.70" width="23.40" height="23.40" fill="#b5d4ec"/>
<rect x="399.40" y="921.70" width="23.40" height="23.40" fill="#a5c8e6"/>
<rect x="422.30" y="921.70" width="23.40" height="23.40" fill="#a5c8e6"/>
<rect x="445.20" y="921.70" width="23.40" height="23.40" fill="#f6e4f0"/>
<rect x="468.10" y="921.70" width="23.40" height="23.40" fill="#fbf0f5"/>
<rect x="491.00" y="921.70" width="23.40" height="23.40" fill="#fbf0f5"/>
<rect x="513.90" y="921.70" width="23.40" height="23.40" fill="#fbf0f5"/>
<rect x="536.80" y="921.70" width="23.40" height="23.40" fill="#e42554"/>
<rect x="559.70" y="921.70" width="23.40" height="23.40" fill="#dd2a2b"/>
<rect x="582.60" y="921.70" width="23.40" height="23.40" fill="#cb4d9a"/>
<rect x="605.50" y="921.70" width="23.40" height="23.40" fill="#cb4d9a"/>
<rect x="262.00" y="944.60" width="23.40" height="23.40" fill="#9ec2e3"/>
<rect x="284.90" y="944.60" width="23.40" height="23.40" fill="#9ec2e3"/>
<rect x="307.80" y="944.60" width="23.40" height="23.40" fill="#a5c8e6"/>
<rect x="330.70" y="944.60" width="23.40" height="23.40" fill="#b5d4ec"/>
<rect x="353.60" y="944.60" width="23.40" height="23.40" fill="#a5c8e6"/>
<rect x="376.50" y="944.60" width="23.40" height="23.40" fill="#a5c8e6"/>
<rect x="399.40" y="944.60" width="23.40" height="23.40" fill="#bcd6ee"/>
<rect x="422.30" y="944.60" width="23.40" height="23.40" fill="#a5c8e6"/>
<rect x="445.20" y="944.60" width="23.40" height="23.40" fill="#fbf0f5"/>
<rect x="468.10" y="944.60" width="23.40" height="23.40" fill="#fdf8fa"/>
<rect x="491.00" y="944.60" width="23.40" height="23.40" fill="#f2d5e9"/>
<rect x="513.90" y="944.60" width="23.40" height="23.40" fill="#f6e4f0"/>
<rect x="536.80" y="944.60" width="23.40" height="23.40" fill="#cb4d9a"/>
<rect x="559.70" y="944.60" width="23.40" height="23.40" fill="#cb4d9a"/>
<rect x="582.60" y="944.60" width="23.40" height="23.40" fill="#dd2a2b"/>
<rect x="605.50" y="944.60" width="23.40" height="23.40" fill="#e6226e"/>
<rect x="262.00" y="967.50" width="23.40" height="23.40" fill="#97bde0"/>
<rect x="284.90" y="967.50" width="23.40" height="23.40" fill="#9ec2e3"/>
<rect x="307.80" y="967.50" width="23.40" height="23.40" fill="#b5d4ec"/>
<rect x="330.70" y="967.50" width="23.40" height="23.40" fill="#a5c8e6"/>
<rect x="353.60" y="967.50" width="23.40" height="23.40" fill="#9ec2e3"/>
<rect x="376.50" y="967.50" width="23.40" height="23.40" fill="#97bde0"/>
<rect x="399.40" y="967.50" width="23.40" height="23.40" fill="#a5c8e6"/>
<rect x="422.30" y="967.50" width="23.40" height="23.40" fill="#b5d4ec"/>
<rect x="445.20" y="967.50" width="23.40" height="23.40" fill="#f6e4f0"/>
<rect x="468.10" y="967.50" width="23.40" height="23.40" fill="#fbf0f5"/>
<rect x="491.00" y="967.50" width="23.40" height="23.40" fill="#f2d5e9"/>
<rect x="513.90" y="967.50" width="23.40" height="23.40" fill="#f2d5e9"/>
<rect x="536.80" y="967.50" width="23.40" height="23.40" fill="#cb4d9a"/>
<rect x="559.70" y="967.50" width="23.40" height="23.40" fill="#cb4d9a"/>
<rect x="582.60" y="967.50" width="23.40" height="23.40" fill="#e6226e"/>
<rect x="605.50" y="967.50" width="23.40" height="23.40" fill="#dd2a2b"/>
</g>
<g shape-rendering="crispEdges">
<rect x="641.10" y="627.00" width="23.41" height="23.41" fill="#dd2a2b"/>
<rect x="664.01" y="627.00" width="23.41" height="23.41" fill="#e42554"/>
<rect x="686.93" y="627.00" width="23.41" height="23.41" fill="#cb4d9a"/>
<rect x="709.84" y="627.00" width="23.41" height="23.41" fill="#b8549f"/>
<rect x="732.75" y="627.00" width="23.41" height="23.41" fill="#dfa9d0"/>
<rect x="755.66" y="627.00" width="23.41" height="23.41" fill="#dfa9d0"/>
<rect x="778.58" y="627.00" width="23.41" height="23.41" fill="#e8c0dc"/>
<rect x="801.49" y="627.00" width="23.41" height="23.41" fill="#e8c0dc"/>
<rect x="824.40" y="627.00" width="23.41" height="23.41" fill="#a5c8e6"/>
<rect x="847.31" y="627.00" width="23.41" height="23.41" fill="#97bde0"/>
<rect x="870.23" y="627.00" width="23.41" height="23.41" fill="#8eb7dd"/>
<rect x="893.14" y="627.00" width="23.41" height="23.41" fill="#85b1da"/>
<rect x="916.05" y="627.00" width="23.41" height="23.41" fill="#a5c8e6"/>
<rect x="938.96" y="627.00" width="23.41" height="23.41" fill="#a5c8e6"/>
<rect x="961.88" y="627.00" width="23.41" height="23.41" fill="#97bde0"/>
<rect x="984.79" y="627.00" width="23.41" height="23.41" fill="#a5c8e6"/>
<rect x="641.10" y="649.91" width="23.41" height="23.41" fill="#e42554"/>
<rect x="664.01" y="649.91" width="23.41" height="23.41" fill="#dd2a2b"/>
<rect x="686.93" y="649.91" width="23.41" height="23.41" fill="#cb4d9a"/>
<rect x="709.84" y="649.91" width="23.41" height="23.41" fill="#b8549f"/>
<rect x="732.75" y="649.91" width="23.41" height="23.41" fill="#e8c0dc"/>
<rect x="755.66" y="649.91" width="23.41" height="23.41" fill="#e8c0dc"/>
<rect x="778.58" y="649.91" width="23.41" height="23.41" fill="#f2d5e9"/>
<rect x="801.49" y="649.91" width="23.41" height="23.41" fill="#f2d5e9"/>
<rect x="824.40" y="649.91" width="23.41" height="23.41" fill="#a5c8e6"/>
<rect x="847.31" y="649.91" width="23.41" height="23.41" fill="#a5c8e6"/>
<rect x="870.23" y="649.91" width="23.41" height="23.41" fill="#97bde0"/>
<rect x="893.14" y="649.91" width="23.41" height="23.41" fill="#8eb7dd"/>
<rect x="916.05" y="649.91" width="23.41" height="23.41" fill="#a5c8e6"/>
<rect x="938.96" y="649.91" width="23.41" height="23.41" fill="#a5c8e6"/>
<rect x="961.88" y="649.91" width="23.41" height="23.41" fill="#9ec2e3"/>
<rect x="984.79" y="649.91" width="23.41" height="23.41" fill="#a5c8e6"/>
<rect x="641.10" y="672.83" width="23.41" height="23.41" fill="#cb4d9a"/>
<rect x="664.01" y="672.83" width="23.41" height="23.41" fill="#cb4d9a"/>
<rect x="686.93" y="672.83" width="23.41" height="23.41" fill="#dd2a2b"/>
<rect x="709.84" y="672.83" width="23.41" height="23.41" fill="#d84493"/>
<rect x="732.75" y="672.83" width="23.41" height="23.41" fill="#f6e4f0"/>
<rect x="755.66" y="672.83" width="23.41" height="23.41" fill="#f6e4f0"/>
<rect x="778.58" y="672.83" width="23.41" height="23.41" fill="#e8c0dc"/>
<rect x="801.49" y="672.83" width="23.41" height="23.41" fill="#f2d5e9"/>
<rect x="824.40" y="672.83" width="23.41" height="23.41" fill="#a5c8e6"/>
<rect x="847.31" y="672.83" width="23.41" height="23.41" fill="#a5c8e6"/>
<rect x="870.23" y="672.83" width="23.41" height="23.41" fill="#a5c8e6"/>
<rect x="893.14" y="672.83" width="23.41" height="23.41" fill="#97bde0"/>
<rect x="916.05" y="672.83" width="23.41" height="23.41" fill="#a5c8e6"/>
<rect x="938.96" y="672.83" width="23.41" height="23.41" fill="#a5c8e6"/>
<rect x="961.88" y="672.83" width="23.41" height="23.41" fill="#a5c8e6"/>
<rect x="984.79" y="672.83" width="23.41" height="23.41" fill="#b5d4ec"/>
<rect x="641.10" y="695.74" width="23.41" height="23.41" fill="#b8549f"/>
<rect x="664.01" y="695.74" width="23.41" height="23.41" fill="#b8549f"/>
<rect x="686.93" y="695.74" width="23.41" height="23.41" fill="#d84493"/>
<rect x="709.84" y="695.74" width="23.41" height="23.41" fill="#dd2a2b"/>
<rect x="732.75" y="695.74" width="23.41" height="23.41" fill="#f2d5e9"/>
<rect x="755.66" y="695.74" width="23.41" height="23.41" fill="#f2d5e9"/>
<rect x="778.58" y="695.74" width="23.41" height="23.41" fill="#f6e4f0"/>
<rect x="801.49" y="695.74" width="23.41" height="23.41" fill="#e4b4d6"/>
<rect x="824.40" y="695.74" width="23.41" height="23.41" fill="#a5c8e6"/>
<rect x="847.31" y="695.74" width="23.41" height="23.41" fill="#a5c8e6"/>
<rect x="870.23" y="695.74" width="23.41" height="23.41" fill="#c4d9ef"/>
<rect x="893.14" y="695.74" width="23.41" height="23.41" fill="#97bde0"/>
<rect x="916.05" y="695.74" width="23.41" height="23.41" fill="#adcee9"/>
<rect x="938.96" y="695.74" width="23.41" height="23.41" fill="#a5c8e6"/>
<rect x="961.88" y="695.74" width="23.41" height="23.41" fill="#adcee9"/>
<rect x="984.79" y="695.74" width="23.41" height="23.41" fill="#a5c8e6"/>
<rect x="641.10" y="718.65" width="23.41" height="23.41" fill="#dfa9d0"/>
<rect x="664.01" y="718.65" width="23.41" height="23.41" fill="#e8c0dc"/>
<rect x="686.93" y="718.65" width="23.41" height="23.41" fill="#f6e4f0"/>
<rect x="709.84" y="718.65" width="23.41" height="23.41" fill="#f2d5e9"/>
<rect x="732.75" y="718.65" width="23.41" height="23.41" fill="#dd2a2b"/>
<rect x="755.66" y="718.65" width="23.41" height="23.41" fill="#e42554"/>
<rect x="778.58" y="718.65" width="23.41" height="23.41" fill="#cb4d9a"/>
<rect x="801.49" y="718.65" width="23.41" height="23.41" fill="#b8549f"/>
<rect x="824.40" y="718.65" width="23.41" height="23.41" fill="#b5d4ec"/>
<rect x="847.31" y="718.65" width="23.41" height="23.41" fill="#a5c8e6"/>
<rect x="870.23" y="718.65" width="23.41" height="23.41" fill="#8eb7dd"/>
<rect x="893.14" y="718.65" width="23.41" height="23.41" fill="#97bde0"/>
<rect x="916.05" y="718.65" width="23.41" height="23.41" fill="#bcd6ee"/>
<rect x="938.96" y="718.65" width="23.41" height="23.41" fill="#b5d4ec"/>
<rect x="961.88" y="718.65" width="23.41" height="23.41" fill="#9ec2e3"/>
<rect x="984.79" y="718.65" width="23.41" height="23.41" fill="#a5c8e6"/>
<rect x="641.10" y="741.56" width="23.41" height="23.41" fill="#dfa9d0"/>
<rect x="664.01" y="741.56" width="23.41" height="23.41" fill="#e8c0dc"/>
<rect x="686.93" y="741.56" width="23.41" height="23.41" fill="#f6e4f0"/>
<rect x="709.84" y="741.56" width="23.41" height="23.41" fill="#f2d5e9"/>
<rect x="732.75" y="741.56" width="23.41" height="23.41" fill="#e42554"/>
<rect x="755.66" y="741.56" width="23.41" height="23.41" fill="#dd2a2b"/>
<rect x="778.58" y="741.56" width="23.41" height="23.41" fill="#cb4d9a"/>
<rect x="801.49" y="741.56" width="23.41" height="23.41" fill="#b8549f"/>
<rect x="824.40" y="741.56" width="23.41" height="23.41" fill="#b5d4ec"/>
<rect x="847.31" y="741.56" width="23.41" height="23.41" fill="#a5c8e6"/>
<rect x="870.23" y="741.56" width="23.41" height="23.41" fill="#8eb7dd"/>
<rect x="893.14" y="741.56" width="23.41" height="23.41" fill="#97bde0"/>
<rect x="916.05" y="741.56" width="23.41" height="23.41" fill="#b5d4ec"/>
<rect x="938.96" y="741.56" width="23.41" height="23.41" fill="#b5d4ec"/>
<rect x="961.88" y="741.56" width="23.41" height="23.41" fill="#9ec2e3"/>
<rect x="984.79" y="741.56" width="23.41" height="23.41" fill="#a5c8e6"/>
<rect x="641.10" y="764.48" width="23.41" height="23.41" fill="#e8c0dc"/>
<rect x="664.01" y="764.48" width="23.41" height="23.41" fill="#f2d5e9"/>
<rect x="686.93" y="764.48" width="23.41" height="23.41" fill="#e8c0dc"/>
<rect x="709.84" y="764.48" width="23.41" height="23.41" fill="#f6e4f0"/>
<rect x="732.75" y="764.48" width="23.41" height="23.41" fill="#cb4d9a"/>
<rect x="755.66" y="764.48" width="23.41" height="23.41" fill="#cb4d9a"/>
<rect x="778.58" y="764.48" width="23.41" height="23.41" fill="#dd2a2b"/>
<rect x="801.49" y="764.48" width="23.41" height="23.41" fill="#cb4d9a"/>
<rect x="824.40" y="764.48" width="23.41" height="23.41" fill="#a5c8e6"/>
<rect x="847.31" y="764.48" width="23.41" height="23.41" fill="#a5c8e6"/>
<rect x="870.23" y="764.48" width="23.41" height="23.41" fill="#97bde0"/>
<rect x="893.14" y="764.48" width="23.41" height="23.41" fill="#a5c8e6"/>
<rect x="916.05" y="764.48" width="23.41" height="23.41" fill="#adcee9"/>
<rect x="938.96" y="764.48" width="23.41" height="23.41" fill="#a5c8e6"/>
<rect x="961.88" y="764.48" width="23.41" height="23.41" fill="#a5c8e6"/>
<rect x="984.79" y="764.48" width="23.41" height="23.41" fill="#bcd6ee"/>
<rect x="641.10" y="787.39" width="23.41" height="23.41" fill="#e8c0dc"/>
<rect x="664.01" y="787.39" width="23.41" height="23.41" fill="#f2d5e9"/>
<rect x="686.93" y="787.39" width="23.41" height="23.41" fill="#f2d5e9"/>
<rect x="709.84" y="787.39" width="23.41" height="23.41" fill="#e4b4d6"/>
<rect x="732.75" y="787.39" width="23.41" height="23.41" fill="#b8549f"/>
<rect x="755.66" y="787.39" width="23.41" height="23.41" fill="#b8549f"/>
<rect x="778.58" y="787.39" width="23.41" height="23.41" fill="#cb4d9a"/>
<rect x="801.49" y="787.39" width="23.41" height="23.41" fill="#dd2a2b"/>
<rect x="824.40" y="787.39" width="23.41" height="23.41" fill="#a5c8e6"/>
<rect x="847.31" y="787.39" width="23.41" height="23.41" fill="#a5c8e6"/>
<rect x="870.23" y="787.39" width="23.41" height="23.41" fill="#b5d4ec"/>
<rect x="893.14" y="787.39" width="23.41" height="23.41" fill="#a5c8e6"/>
<rect x="916.05" y="787.39" width="23.41" height="23.41" fill="#b5d4ec"/>
<rect x="938.96" y="787.39" width="23.41" height="23.41" fill="#a5c8e6"/>
<rect x="961.88" y="787.39" width="23.41" height="23.41" fill="#adcee9"/>
<rect x="984.79" y="787.39" width="23.41" height="23.41" fill="#adcee9"/>
<rect x="641.10" y="810.30" width="23.41" height="23.41" fill="#a5c8e6"/>
<rect x="664.01" y="810.30" width="23.41" height="23.41" fill="#a5c8e6"/>
<rect x="686.93" y="810.30" width="23.41" height="23.41" fill="#a5c8e6"/>
<rect x="709.84" y="810.30" width="23.41" height="23.41" fill="#a5c8e6"/>
<rect x="732.75" y="810.30" width="23.41" height="23.41" fill="#b5d4ec"/>
<rect x="755.66" y="810.30" width="23.41" height="23.41" fill="#b5d4ec"/>
<rect x="778.58" y="810.30" width="23.41" height="23.41" fill="#a5c8e6"/>
<rect x="801.49" y="810.30" width="23.41" height="23.41" fill="#a5c8e6"/>
<rect x="824.40" y="810.30" width="23.41" height="23.41" fill="#dd2a2b"/>
<rect x="847.31" y="810.30" width="23.41" height="23.41" fill="#e6226e"/>
<rect x="870.23" y="810.30" width="23.41" height="23.41" fill="#b8549f"/>
<rect x="893.14" y="810.30" width="23.41" height="23.41" fill="#b8549f"/>
<rect x="916.05" y="810.30" width="23.41" height="23.41" fill="#ffffff"/>
<rect x="938.96" y="810.30" width="23.41" height="23.41" fill="#fbf0f5"/>
<rect x="961.88" y="810.30" width="23.41" height="23.41" fill="#fbf0f5"/>
<rect x="984.79" y="810.30" width="23.41" height="23.41" fill="#fdf8fa"/>
<rect x="641.10" y="833.21" width="23.41" height="23.41" fill="#97bde0"/>
<rect x="664.01" y="833.21" width="23.41" height="23.41" fill="#a5c8e6"/>
<rect x="686.93" y="833.21" width="23.41" height="23.41" fill="#a5c8e6"/>
<rect x="709.84" y="833.21" width="23.41" height="23.41" fill="#a5c8e6"/>
<rect x="732.75" y="833.21" width="23.41" height="23.41" fill="#a5c8e6"/>
<rect x="755.66" y="833.21" width="23.41" height="23.41" fill="#a5c8e6"/>
<rect x="778.58" y="833.21" width="23.41" height="23.41" fill="#a5c8e6"/>
<rect x="801.49" y="833.21" width="23.41" height="23.41" fill="#a5c8e6"/>
<rect x="824.40" y="833.21" width="23.41" height="23.41" fill="#e6226e"/>
<rect x="847.31" y="833.21" width="23.41" height="23.41" fill="#dd2a2b"/>
<rect x="870.23" y="833.21" width="23.41" height="23.41" fill="#b8549f"/>
<rect x="893.14" y="833.21" width="23.41" height="23.41" fill="#b8549f"/>
<rect x="916.05" y="833.21" width="23.41" height="23.41" fill="#fdf8fa"/>
<rect x="938.96" y="833.21" width="23.41" height="23.41" fill="#f6e4f0"/>
<rect x="961.88" y="833.21" width="23.41" height="23.41" fill="#fbf0f5"/>
<rect x="984.79" y="833.21" width="23.41" height="23.41" fill="#fbf0f5"/>
<rect x="641.10" y="856.12" width="23.41" height="23.41" fill="#8eb7dd"/>
<rect x="664.01" y="856.12" width="23.41" height="23.41" fill="#97bde0"/>
<rect x="686.93" y="856.12" width="23.41" height="23.41" fill="#a5c8e6"/>
<rect x="709.84" y="856.12" width="23.41" height="23.41" fill="#c4d9ef"/>
<rect x="732.75" y="856.12" width="23.41" height="23.41" fill="#8eb7dd"/>
<rect x="755.66" y="856.12" width="23.41" height="23.41" fill="#8eb7dd"/>
<rect x="778.58" y="856.12" width="23.41" height="23.41" fill="#97bde0"/>
<rect x="801.49" y="856.12" width="23.41" height="23.41" fill="#b5d4ec"/>
<rect x="824.40" y="856.12" width="23.41" height="23.41" fill="#b8549f"/>
<rect x="847.31" y="856.12" width="23.41" height="23.41" fill="#b8549f"/>
<rect x="870.23" y="856.12" width="23.41" height="23.41" fill="#dd2a2b"/>
<rect x="893.14" y="856.12" width="23.41" height="23.41" fill="#cb4d9a"/>
<rect x="916.05" y="856.12" width="23.41" height="23.41" fill="#ffffff"/>
<rect x="938.96" y="856.12" width="23.41" height="23.41" fill="#fbf0f5"/>
<rect x="961.88" y="856.12" width="23.41" height="23.41" fill="#f2d5e9"/>
<rect x="984.79" y="856.12" width="23.41" height="23.41" fill="#f6e4f0"/>
<rect x="641.10" y="879.04" width="23.41" height="23.41" fill="#85b1da"/>
<rect x="664.01" y="879.04" width="23.41" height="23.41" fill="#8eb7dd"/>
<rect x="686.93" y="879.04" width="23.41" height="23.41" fill="#97bde0"/>
<rect x="709.84" y="879.04" width="23.41" height="23.41" fill="#97bde0"/>
<rect x="732.75" y="879.04" width="23.41" height="23.41" fill="#97bde0"/>
<rect x="755.66" y="879.04" width="23.41" height="23.41" fill="#97bde0"/>
<rect x="778.58" y="879.04" width="23.41" height="23.41" fill="#a5c8e6"/>
<rect x="801.49" y="879.04" width="23.41" height="23.41" fill="#a5c8e6"/>
<rect x="824.40" y="879.04" width="23.41" height="23.41" fill="#b8549f"/>
<rect x="847.31" y="879.04" width="23.41" height="23.41" fill="#b8549f"/>
<rect x="870.23" y="879.04" width="23.41" height="23.41" fill="#cb4d9a"/>
<rect x="893.14" y="879.04" width="23.41" height="23.41" fill="#dd2a2b"/>
<rect x="916.05" y="879.04" width="23.41" height="23.41" fill="#fdf8fa"/>
<rect x="938.96" y="879.04" width="23.41" height="23.41" fill="#fbf0f5"/>
<rect x="961.88" y="879.04" width="23.41" height="23.41" fill="#f2d5e9"/>
<rect x="984.79" y="879.04" width="23.41" height="23.41" fill="#f2d5e9"/>
<rect x="641.10" y="901.95" width="23.41" height="23.41" fill="#a5c8e6"/>
<rect x="664.01" y="901.95" width="23.41" height="23.41" fill="#adcee9"/>
<rect x="686.93" y="901.95" width="23.41" height="23.41" fill="#adcee9"/>
<rect x="709.84" y="901.95" width="23.41" height="23.41" fill="#b5d4ec"/>
<rect x="732.75" y="901.95" width="23.41" height="23.41" fill="#c4d9ef"/>
<rect x="755.66" y="901.95" width="23.41" height="23.41" fill="#bcd6ee"/>
<rect x="778.58" y="901.95" width="23.41" height="23.41" fill="#b5d4ec"/>
<rect x="801.49" y="901.95" width="23.41" height="23.41" fill="#b5d4ec"/>
<rect x="824.40" y="901.95" width="23.41" height="23.41" fill="#ffffff"/>
<rect x="847.31" y="901.95" width="23.41" height="23.41" fill="#fdf8fa"/>
<rect x="870.23" y="901.95" width="23.41" height="23.41" fill="#ffffff"/>
<rect x="893.14" y="901.95" width="23.41" height="23.41" fill="#fdf8fa"/>
<rect x="916.05" y="901.95" width="23.41" height="23.41" fill="#dd2a2b"/>
<rect x="938.96" y="901.95" width="23.41" height="23.41" fill="#e42554"/>
<rect x="961.88" y="901.95" width="23.41" height="23.41" fill="#cb4d9a"/>
<rect x="984.79" y="901.95" width="23.41" height="23.41" fill="#cb4d9a"/>
<rect x="641.10" y="924.86" width="23.41" height="23.41" fill="#a5c8e6"/>
<rect x="664.01" y="924.86" width="23.41" height="23.41" fill="#a5c8e6"/>
<rect x="686.93" y="924.86" width="23.41" height="23.41" fill="#a5c8e6"/>
<rect x="709.84" y="924.86" width="23.41" height="23.41" fill="#adcee9"/>
<rect x="732.75" y="924.86" width="23.41" height="23.41" fill="#b5d4ec"/>
<rect x="755.66" y="924.86" width="23.41" height="23.41" fill="#b5d4ec"/>
<rect x="778.58" y="924.86" width="23.41" height="23.41" fill="#a5c8e6"/>
<rect x="801.49" y="924.86" width="23.41" height="23.41" fill="#a5c8e6"/>
<rect x="824.40" y="924.86" width="23.41" height="23.41" fill="#fbf0f5"/>
<rect x="847.31" y="924.86" width="23.41" height="23.41" fill="#f6e4f0"/>
<rect x="870.23" y="924.86" width="23.41" height="23.41" fill="#fbf0f5"/>
<rect x="893.14" y="924.86" width="23.41" height="23.41" fill="#fbf0f5"/>
<rect x="916.05" y="924.86" width="23.41" height="23.41" fill="#e42554"/>
<rect x="938.96" y="924.86" width="23.41" height="23.41" fill="#dd2a2b"/>
<rect x="961.88" y="924.86" width="23.41" height="23.41" fill="#cb4d9a"/>
<rect x="984.79" y="924.86" width="23.41" height="23.41" fill="#cb4d9a"/>
<rect x="641.10" y="947.78" width="23.41" height="23.41" fill="#97bde0"/>
<rect x="664.01" y="947.78" width="23.41" height="23.41" fill="#9ec2e3"/>
<rect x="686.93" y="947.78" width="23.41" height="23.41" fill="#a5c8e6"/>
<rect x="709.84" y="947.78" width="23.41" height="23.41" fill="#b5d4ec"/>
<rect x="732.75" y="947.78" width="23.41" height="23.41" fill="#a5c8e6"/>
<rect x="755.66" y="947.78" width="23.41" height="23.41" fill="#9ec2e3"/>
<rect x="778.58" y="947.78" width="23.41" height="23.41" fill="#a5c8e6"/>
<rect x="801.49" y="947.78" width="23.41" height="23.41" fill="#b5d4ec"/>
<rect x="824.40" y="947.78" width="23.41" height="23.41" fill="#fbf0f5"/>
<rect x="847.31" y="947.78" width="23.41" height="23.41" fill="#fbf0f5"/>
<rect x="870.23" y="947.78" width="23.41" height="23.41" fill="#f2d5e9"/>
<rect x="893.14" y="947.78" width="23.41" height="23.41" fill="#f2d5e9"/>
<rect x="916.05" y="947.78" width="23.41" height="23.41" fill="#cb4d9a"/>
<rect x="938.96" y="947.78" width="23.41" height="23.41" fill="#cb4d9a"/>
<rect x="961.88" y="947.78" width="23.41" height="23.41" fill="#dd2a2b"/>
<rect x="984.79" y="947.78" width="23.41" height="23.41" fill="#e6226e"/>
<rect x="641.10" y="970.69" width="23.41" height="23.41" fill="#a5c8e6"/>
<rect x="664.01" y="970.69" width="23.41" height="23.41" fill="#a5c8e6"/>
<rect x="686.93" y="970.69" width="23.41" height="23.41" fill="#b5d4ec"/>
<rect x="709.84" y="970.69" width="23.41" height="23.41" fill="#adcee9"/>
<rect x="732.75" y="970.69" width="23.41" height="23.41" fill="#adcee9"/>
<rect x="755.66" y="970.69" width="23.41" height="23.41" fill="#a5c8e6"/>
<rect x="778.58" y="970.69" width="23.41" height="23.41" fill="#bcd6ee"/>
<rect x="801.49" y="970.69" width="23.41" height="23.41" fill="#adcee9"/>
<rect x="824.40" y="970.69" width="23.41" height="23.41" fill="#fdf8fa"/>
<rect x="847.31" y="970.69" width="23.41" height="23.41" fill="#fbf0f5"/>
<rect x="870.23" y="970.69" width="23.41" height="23.41" fill="#f6e4f0"/>
<rect x="893.14" y="970.69" width="23.41" height="23.41" fill="#f2d5e9"/>
<rect x="916.05" y="970.69" width="23.41" height="23.41" fill="#cb4d9a"/>
<rect x="938.96" y="970.69" width="23.41" height="23.41" fill="#cb4d9a"/>
<rect x="961.88" y="970.69" width="23.41" height="23.41" fill="#e6226e"/>
<rect x="984.79" y="970.69" width="23.41" height="23.41" fill="#dd2a2b"/>
</g>
<rect x="175.00" y="624.70" width="21.50" height="183.05" fill="#3d3b98"/>
<rect x="175.00" y="807.75" width="20.30" height="183.05" fill="#dd2a2b"/>
<rect x="201.00" y="624.70" width="20.80" height="46.06" fill="#f09025"/>
<rect x="201.00" y="670.46" width="20.80" height="46.06" fill="#652d92"/>
<rect x="201.00" y="716.23" width="20.80" height="46.06" fill="#f09025"/>
<rect x="201.00" y="761.99" width="20.80" height="46.06" fill="#652d92"/>
<rect x="201.00" y="807.75" width="20.80" height="46.06" fill="#f09025"/>
<rect x="201.00" y="853.51" width="20.80" height="46.06" fill="#652d92"/>
<rect x="201.00" y="899.28" width="20.80" height="46.06" fill="#f09025"/>
<rect x="201.00" y="945.04" width="20.80" height="46.06" fill="#652d92"/>
<rect x="226.00" y="624.70" width="20.00" height="91.83" fill="#4477bb"/>
<rect x="226.00" y="716.23" width="20.00" height="91.83" fill="#177db9"/>
<rect x="226.00" y="807.75" width="20.00" height="91.83" fill="#427d7c"/>
<rect x="226.00" y="899.28" width="20.00" height="91.83" fill="#96cb6f"/>
<defs><linearGradient id="gd" x1="0" y1="0" x2="0" y2="1"><stop offset="0" stop-color="#de2c36"/><stop offset="0.073" stop-color="#cc3f66"/><stop offset="0.141" stop-color="#b5509d"/><stop offset="0.2" stop-color="#c06cb0"/><stop offset="0.27" stop-color="#d090c4"/><stop offset="0.344" stop-color="#deb0d4"/><stop offset="0.407" stop-color="#eed0e6"/><stop offset="0.455" stop-color="#f8ecf4"/><stop offset="0.5" stop-color="#ffffff"/><stop offset="0.56" stop-color="#e4ecf6"/><stop offset="0.624" stop-color="#c4d4ea"/><stop offset="0.706" stop-color="#9cb6dc"/><stop offset="0.78" stop-color="#7a9acf"/><stop offset="0.85" stop-color="#4f78bb"/><stop offset="0.924" stop-color="#4568b3"/><stop offset="1" stop-color="#4459ab"/></linearGradient></defs>
<rect x="54.20" y="642.60" width="21.90" height="327.60" fill="#d2d2d2"/>
<rect x="57.20" y="645.70" width="15.90" height="321.60" fill="url(#gd)"/>
<text transform="translate(34.8,806.7) rotate(-90)" font-size="27.4" text-anchor="middle">Pearson correlation</text>
<text transform="translate(104.0,648.0) rotate(-90)" font-size="27.4" text-anchor="middle">1</text>
<text transform="translate(104.0,677.7) rotate(-90)" font-size="27.4" text-anchor="middle">.7</text>
<text transform="translate(104.0,802.3) rotate(-90)" font-size="27.4" text-anchor="middle">0</text>
<text transform="translate(104.0,916.2) rotate(-90)" font-size="27.4" text-anchor="middle">–.7</text>
<text transform="translate(104.0,973.0) rotate(-90)" font-size="27.4" text-anchor="middle">–1</text>
<rect x="157.7" y="1032.8" width="808" height="255.5" fill="#fff" stroke="#9a9a9a" stroke-width="1.3"/>
<text x="181.7" y="1069.3" font-size="31.6" style="font-kerning:none">D,E</text>
<text x="260.2" y="1078.3" font-size="27.4">Subtype</text>
<text x="470.8" y="1078.3" font-size="27.4">Tissue type</text>
<text x="691.8" y="1077.3" font-size="27.4">PDX</text>
<rect x="292.80" y="1097.00" width="40.50" height="40.50" fill="#d4d4d4"/>
<rect x="295.80" y="1100.00" width="34.50" height="34.50" fill="#dd2a2b"/>
<rect x="292.80" y="1140.50" width="40.50" height="40.50" fill="#d4d4d4"/>
<rect x="295.80" y="1143.50" width="34.50" height="34.50" fill="#3d3b98"/>
<text x="339.2" y="1129.9" font-size="27.4">Basal</text>
<text x="339.2" y="1173.4" font-size="27.4">Luminal</text>
<rect x="523.00" y="1098.50" width="40.50" height="40.50" fill="#d4d4d4"/>
<rect x="526.00" y="1101.50" width="34.50" height="34.50" fill="#f09025"/>
<rect x="523.00" y="1143.00" width="40.50" height="40.50" fill="#d4d4d4"/>
<rect x="526.00" y="1146.00" width="34.50" height="34.50" fill="#652d92"/>
<text x="572.9" y="1131.4" font-size="27.4">Bulk</text>
<text x="573.7" y="1175.4" font-size="27.4">Cores</text>
<rect x="714.20" y="1087.40" width="40.50" height="40.50" fill="#d4d4d4"/>
<rect x="717.20" y="1090.40" width="34.50" height="34.50" fill="#00a2d3"/>
<text x="767.3" y="1116.2" font-size="27.4">WHIM18</text>
<rect x="714.20" y="1140.50" width="40.50" height="40.50" fill="#d4d4d4"/>
<rect x="717.20" y="1143.50" width="34.50" height="34.50" fill="#177db9"/>
<text x="767.3" y="1171.9" font-size="27.4">WHIM20</text>
<rect x="714.20" y="1192.10" width="40.50" height="40.50" fill="#d4d4d4"/>
<rect x="717.20" y="1195.10" width="34.50" height="34.50" fill="#427d7c"/>
<text x="767.3" y="1222.5" font-size="27.4">WHIM2</text>
<rect x="714.20" y="1242.70" width="40.50" height="40.50" fill="#d4d4d4"/>
<rect x="717.20" y="1245.70" width="34.50" height="34.50" fill="#96cb6f"/>
<text x="767.3" y="1271.6" font-size="27.4">WHIM14</text>
</g>
<g id="panel-e">
<text x="1100.0" y="867.1" font-size="46" font-weight="bold">e</text>
<text x="1095.0" y="958.0" font-size="27.4">Subtype</text>
<text x="1095.6" y="986.0" font-size="27.4">Tissue type</text>
<text x="1094.0" y="1012.2" font-size="27.4">PDX</text>
<rect x="1249.30" y="941.20" width="114.70" height="22.80" fill="#3d3b98"/>
<rect x="1249.30" y="964.00" width="57.35" height="24.30" fill="#f07f45"/>
<rect x="1306.65" y="964.00" width="57.35" height="24.30" fill="#4b2a7e"/>
<rect x="1249.30" y="988.30" width="114.70" height="22.30" fill="#00a2d3"/>
<rect x="1384.20" y="941.20" width="114.70" height="22.80" fill="#3d3b98"/>
<rect x="1384.20" y="964.00" width="57.35" height="24.30" fill="#f07f45"/>
<rect x="1441.55" y="964.00" width="57.35" height="24.30" fill="#4b2a7e"/>
<rect x="1384.20" y="988.30" width="114.70" height="22.30" fill="#177db9"/>
<rect x="1519.00" y="941.20" width="114.70" height="22.80" fill="#dd2a2b"/>
<rect x="1519.00" y="964.00" width="57.35" height="24.30" fill="#f07f45"/>
<rect x="1576.35" y="964.00" width="57.35" height="24.30" fill="#4b2a7e"/>
<rect x="1519.00" y="988.30" width="114.70" height="22.30" fill="#96cb6f"/>
<rect x="1654.20" y="941.20" width="114.70" height="22.80" fill="#dd2a2b"/>
<rect x="1654.20" y="964.00" width="57.35" height="24.30" fill="#f07f45"/>
<rect x="1711.55" y="964.00" width="57.35" height="24.30" fill="#4b2a7e"/>
<rect x="1654.20" y="988.30" width="114.70" height="22.30" fill="#427d7c"/>
<g shape-rendering="crispEdges" stroke="#8a8a9a" stroke-opacity="0.32" stroke-width="0.8">
<rect x="1250.30" y="1017.40" width="28.68" height="28.16" fill="#4156a6"/>
<rect x="1278.97" y="1017.40" width="28.68" height="28.16" fill="#4156a6"/>
<rect x="1307.65" y="1017.40" width="28.68" height="28.16" fill="#4156a6"/>
<rect x="1336.33" y="1017.40" width="28.68" height="28.16" fill="#4156a6"/>
<rect x="1385.40" y="1017.40" width="28.68" height="28.16" fill="#6366b1"/>
<rect x="1414.08" y="1017.40" width="28.68" height="28.16" fill="#6366b1"/>
<rect x="1442.75" y="1017.40" width="28.68" height="28.16" fill="#4156a6"/>
<rect x="1471.43" y="1017.40" width="28.68" height="28.16" fill="#8b88c2"/>
<rect x="1519.40" y="1016.40" width="28.68" height="28.16" fill="#dc2a2a"/>
<rect x="1548.08" y="1016.40" width="28.68" height="28.16" fill="#dc2a2a"/>
<rect x="1576.75" y="1016.40" width="28.68" height="28.16" fill="#e13739"/>
<rect x="1605.43" y="1016.40" width="28.68" height="28.16" fill="#dc2a2a"/>
<rect x="1654.80" y="1016.40" width="28.68" height="28.16" fill="#e54548"/>
<rect x="1683.47" y="1016.40" width="28.68" height="28.16" fill="#ea595b"/>
<rect x="1712.15" y="1016.40" width="28.68" height="28.16" fill="#f6acae"/>
<rect x="1740.83" y="1016.40" width="28.68" height="28.16" fill="#ec6366"/>
<rect x="1250.30" y="1045.56" width="28.68" height="28.16" fill="#4156a6"/>
<rect x="1278.97" y="1045.56" width="28.68" height="28.16" fill="#4156a6"/>
<rect x="1307.65" y="1045.56" width="28.68" height="28.16" fill="#4156a6"/>
<rect x="1336.33" y="1045.56" width="28.68" height="28.16" fill="#4156a6"/>
<rect x="1385.40" y="1045.56" width="28.68" height="28.16" fill="#cecae6"/>
<rect x="1414.08" y="1045.56" width="28.68" height="28.16" fill="#e3e1f1"/>
<rect x="1442.75" y="1045.56" width="28.68" height="28.16" fill="#4156a6"/>
<rect x="1471.43" y="1045.56" width="28.68" height="28.16" fill="#7b7abb"/>
<rect x="1519.40" y="1044.56" width="28.68" height="28.16" fill="#df3334"/>
<rect x="1548.08" y="1044.56" width="28.68" height="28.16" fill="#dc2a2a"/>
<rect x="1576.75" y="1044.56" width="28.68" height="28.16" fill="#dc2a2a"/>
<rect x="1605.43" y="1044.56" width="28.68" height="28.16" fill="#dc2a2a"/>
<rect x="1654.80" y="1044.56" width="28.68" height="28.16" fill="#e13739"/>
<rect x="1683.47" y="1044.56" width="28.68" height="28.16" fill="#df3334"/>
<rect x="1712.15" y="1044.56" width="28.68" height="28.16" fill="#f6f5fa"/>
<rect x="1740.83" y="1044.56" width="28.68" height="28.16" fill="#f6f5fa"/>
<rect x="1250.30" y="1073.71" width="28.68" height="28.16" fill="#dc2a2a"/>
<rect x="1278.97" y="1073.71" width="28.68" height="28.16" fill="#dc2a2a"/>
<rect x="1307.65" y="1073.71" width="28.68" height="28.16" fill="#dc2a2a"/>
<rect x="1336.33" y="1073.71" width="28.68" height="28.16" fill="#dc2a2a"/>
<rect x="1385.40" y="1073.71" width="28.68" height="28.16" fill="#fdecec"/>
<rect x="1414.08" y="1073.71" width="28.68" height="28.16" fill="#fffcfc"/>
<rect x="1442.75" y="1073.71" width="28.68" height="28.16" fill="#4156a6"/>
<rect x="1471.43" y="1073.71" width="28.68" height="28.16" fill="#4e5dab"/>
<rect x="1519.40" y="1072.71" width="28.68" height="28.16" fill="#4156a6"/>
<rect x="1548.08" y="1072.71" width="28.68" height="28.16" fill="#4156a6"/>
<rect x="1576.75" y="1072.71" width="28.68" height="28.16" fill="#4156a6"/>
<rect x="1605.43" y="1072.71" width="28.68" height="28.16" fill="#4156a6"/>
<rect x="1654.80" y="1072.71" width="28.68" height="28.16" fill="#4156a6"/>
<rect x="1683.47" y="1072.71" width="28.68" height="28.16" fill="#4156a6"/>
<rect x="1712.15" y="1072.71" width="28.68" height="28.16" fill="#4156a6"/>
<rect x="1740.83" y="1072.71" width="28.68" height="28.16" fill="#4156a6"/>
<rect x="1250.30" y="1101.87" width="28.68" height="28.16" fill="#dc2a2a"/>
<rect x="1278.97" y="1101.87" width="28.68" height="28.16" fill="#dc2a2a"/>
<rect x="1307.65" y="1101.87" width="28.68" height="28.16" fill="#e23c3e"/>
<rect x="1336.33" y="1101.87" width="28.68" height="28.16" fill="#dc2a2a"/>
<rect x="1385.40" y="1101.87" width="28.68" height="28.16" fill="#5c63af"/>
<rect x="1414.08" y="1101.87" width="28.68" height="28.16" fill="#7374b8"/>
<rect x="1442.75" y="1101.87" width="28.68" height="28.16" fill="#4156a6"/>
<rect x="1471.43" y="1101.87" width="28.68" height="28.16" fill="#4156a6"/>
<rect x="1519.40" y="1100.87" width="28.68" height="28.16" fill="#6366b1"/>
<rect x="1548.08" y="1100.87" width="28.68" height="28.16" fill="#6b6db4"/>
<rect x="1576.75" y="1100.87" width="28.68" height="28.16" fill="#d8d5eb"/>
<rect x="1605.43" y="1100.87" width="28.68" height="28.16" fill="#4156a6"/>
<rect x="1654.80" y="1100.87" width="28.68" height="28.16" fill="#5560ad"/>
<rect x="1683.47" y="1100.87" width="28.68" height="28.16" fill="#9592c7"/>
<rect x="1712.15" y="1100.87" width="28.68" height="28.16" fill="#8b88c2"/>
<rect x="1740.83" y="1100.87" width="28.68" height="28.16" fill="#6b6db4"/>
<rect x="1250.30" y="1130.03" width="28.68" height="28.16" fill="#dc2a2a"/>
<rect x="1278.97" y="1130.03" width="28.68" height="28.16" fill="#dc2a2a"/>
<rect x="1307.65" y="1130.03" width="28.68" height="28.16" fill="#dc2a2a"/>
<rect x="1336.33" y="1130.03" width="28.68" height="28.16" fill="#dc2a2a"/>
<rect x="1385.40" y="1130.03" width="28.68" height="28.16" fill="#ee787b"/>
<rect x="1414.08" y="1130.03" width="28.68" height="28.16" fill="#f19395"/>
<rect x="1442.75" y="1130.03" width="28.68" height="28.16" fill="#ed6d71"/>
<rect x="1471.43" y="1130.03" width="28.68" height="28.16" fill="#f0888b"/>
<rect x="1519.40" y="1129.03" width="28.68" height="28.16" fill="#4156a6"/>
<rect x="1548.08" y="1129.03" width="28.68" height="28.16" fill="#4156a6"/>
<rect x="1576.75" y="1129.03" width="28.68" height="28.16" fill="#4156a6"/>
<rect x="1605.43" y="1129.03" width="28.68" height="28.16" fill="#4156a6"/>
<rect x="1654.80" y="1129.03" width="28.68" height="28.16" fill="#4156a6"/>
<rect x="1683.47" y="1129.03" width="28.68" height="28.16" fill="#4156a6"/>
<rect x="1712.15" y="1129.03" width="28.68" height="28.16" fill="#4156a6"/>
<rect x="1740.83" y="1129.03" width="28.68" height="28.16" fill="#4156a6"/>
<rect x="1250.30" y="1158.19" width="28.68" height="28.16" fill="#dc2a2a"/>
<rect x="1278.97" y="1158.19" width="28.68" height="28.16" fill="#dc2a2a"/>
<rect x="1307.65" y="1158.19" width="28.68" height="28.16" fill="#dc2a2a"/>
<rect x="1336.33" y="1158.19" width="28.68" height="28.16" fill="#dc2a2a"/>
<rect x="1385.40" y="1158.19" width="28.68" height="28.16" fill="#e84f51"/>
<rect x="1414.08" y="1158.19" width="28.68" height="28.16" fill="#f2979a"/>
<rect x="1442.75" y="1158.19" width="28.68" height="28.16" fill="#f08e90"/>
<rect x="1471.43" y="1158.19" width="28.68" height="28.16" fill="#f5a5a8"/>
<rect x="1519.40" y="1157.19" width="28.68" height="28.16" fill="#4156a6"/>
<rect x="1548.08" y="1157.19" width="28.68" height="28.16" fill="#4156a6"/>
<rect x="1576.75" y="1157.19" width="28.68" height="28.16" fill="#4156a6"/>
<rect x="1605.43" y="1157.19" width="28.68" height="28.16" fill="#4156a6"/>
<rect x="1654.80" y="1157.19" width="28.68" height="28.16" fill="#4156a6"/>
<rect x="1683.47" y="1157.19" width="28.68" height="28.16" fill="#4156a6"/>
<rect x="1712.15" y="1157.19" width="28.68" height="28.16" fill="#4156a6"/>
<rect x="1740.83" y="1157.19" width="28.68" height="28.16" fill="#4156a6"/>
<rect x="1250.30" y="1186.34" width="28.68" height="28.16" fill="#dc2a2a"/>
<rect x="1278.97" y="1186.34" width="28.68" height="28.16" fill="#dc2a2a"/>
<rect x="1307.65" y="1186.34" width="28.68" height="28.16" fill="#df3334"/>
<rect x="1336.33" y="1186.34" width="28.68" height="28.16" fill="#dc2a2a"/>
<rect x="1385.40" y="1186.34" width="28.68" height="28.16" fill="#fbdcdc"/>
<rect x="1414.08" y="1186.34" width="28.68" height="28.16" fill="#fbdcdc"/>
<rect x="1442.75" y="1186.34" width="28.68" height="28.16" fill="#6366b1"/>
<rect x="1471.43" y="1186.34" width="28.68" height="28.16" fill="#f0eff7"/>
<rect x="1519.40" y="1185.34" width="28.68" height="28.16" fill="#4156a6"/>
<rect x="1548.08" y="1185.34" width="28.68" height="28.16" fill="#4156a6"/>
<rect x="1576.75" y="1185.34" width="28.68" height="28.16" fill="#5560ad"/>
<rect x="1605.43" y="1185.34" width="28.68" height="28.16" fill="#4156a6"/>
<rect x="1654.80" y="1185.34" width="28.68" height="28.16" fill="#4156a6"/>
<rect x="1683.47" y="1185.34" width="28.68" height="28.16" fill="#4156a6"/>
<rect x="1712.15" y="1185.34" width="28.68" height="28.16" fill="#4156a6"/>
<rect x="1740.83" y="1185.34" width="28.68" height="28.16" fill="#c4c0e0"/>
<rect x="1250.30" y="1214.50" width="28.68" height="28.16" fill="#dc2a2a"/>
<rect x="1278.97" y="1214.50" width="28.68" height="28.16" fill="#dc2a2a"/>
<rect x="1307.65" y="1214.50" width="28.68" height="28.16" fill="#dc2a2a"/>
<rect x="1336.33" y="1214.50" width="28.68" height="28.16" fill="#dc2a2a"/>
<rect x="1385.40" y="1214.50" width="28.68" height="28.16" fill="#dddaee"/>
<rect x="1414.08" y="1214.50" width="28.68" height="28.16" fill="#d8d5eb"/>
<rect x="1442.75" y="1214.50" width="28.68" height="28.16" fill="#9592c7"/>
<rect x="1471.43" y="1214.50" width="28.68" height="28.16" fill="#fdecec"/>
<rect x="1519.40" y="1213.50" width="28.68" height="28.16" fill="#4156a6"/>
<rect x="1548.08" y="1213.50" width="28.68" height="28.16" fill="#4156a6"/>
<rect x="1576.75" y="1213.50" width="28.68" height="28.16" fill="#4156a6"/>
<rect x="1605.43" y="1213.50" width="28.68" height="28.16" fill="#4156a6"/>
<rect x="1654.80" y="1213.50" width="28.68" height="28.16" fill="#4156a6"/>
<rect x="1683.47" y="1213.50" width="28.68" height="28.16" fill="#4156a6"/>
<rect x="1712.15" y="1213.50" width="28.68" height="28.16" fill="#4156a6"/>
<rect x="1740.83" y="1213.50" width="28.68" height="28.16" fill="#4156a6"/>
<rect x="1250.30" y="1242.66" width="28.68" height="28.16" fill="#4156a6"/>
<rect x="1278.97" y="1242.66" width="28.68" height="28.16" fill="#4156a6"/>
<rect x="1307.65" y="1242.66" width="28.68" height="28.16" fill="#4156a6"/>
<rect x="1336.33" y="1242.66" width="28.68" height="28.16" fill="#4156a6"/>
<rect x="1385.40" y="1242.66" width="28.68" height="28.16" fill="#4156a6"/>
<rect x="1414.08" y="1242.66" width="28.68" height="28.16" fill="#4156a6"/>
<rect x="1442.75" y="1242.66" width="28.68" height="28.16" fill="#4156a6"/>
<rect x="1471.43" y="1242.66" width="28.68" height="28.16" fill="#4156a6"/>
<rect x="1519.40" y="1241.66" width="28.68" height="28.16" fill="#dc2a2a"/>
<rect x="1548.08" y="1241.66" width="28.68" height="28.16" fill="#dc2a2a"/>
<rect x="1576.75" y="1241.66" width="28.68" height="28.16" fill="#dc2a2a"/>
<rect x="1605.43" y="1241.66" width="28.68" height="28.16" fill="#dc2a2a"/>
<rect x="1654.80" y="1241.66" width="28.68" height="28.16" fill="#4156a6"/>
<rect x="1683.47" y="1241.66" width="28.68" height="28.16" fill="#4156a6"/>
<rect x="1712.15" y="1241.66" width="28.68" height="28.16" fill="#4156a6"/>
<rect x="1740.83" y="1241.66" width="28.68" height="28.16" fill="#4156a6"/>
<rect x="1250.30" y="1270.81" width="28.68" height="28.16" fill="#4156a6"/>
<rect x="1278.97" y="1270.81" width="28.68" height="28.16" fill="#4156a6"/>
<rect x="1307.65" y="1270.81" width="28.68" height="28.16" fill="#4156a6"/>
<rect x="1336.33" y="1270.81" width="28.68" height="28.16" fill="#4156a6"/>
<rect x="1385.40" y="1270.81" width="28.68" height="28.16" fill="#4156a6"/>
<rect x="1414.08" y="1270.81" width="28.68" height="28.16" fill="#4156a6"/>
<rect x="1442.75" y="1270.81" width="28.68" height="28.16" fill="#4156a6"/>
<rect x="1471.43" y="1270.81" width="28.68" height="28.16" fill="#4156a6"/>
<rect x="1519.40" y="1269.81" width="28.68" height="28.16" fill="#dc2a2a"/>
<rect x="1548.08" y="1269.81" width="28.68" height="28.16" fill="#dc2a2a"/>
<rect x="1576.75" y="1269.81" width="28.68" height="28.16" fill="#dc2a2a"/>
<rect x="1605.43" y="1269.81" width="28.68" height="28.16" fill="#dc2a2a"/>
<rect x="1654.80" y="1269.81" width="28.68" height="28.16" fill="#4156a6"/>
<rect x="1683.47" y="1269.81" width="28.68" height="28.16" fill="#4156a6"/>
<rect x="1712.15" y="1269.81" width="28.68" height="28.16" fill="#6366b1"/>
<rect x="1740.83" y="1269.81" width="28.68" height="28.16" fill="#4859a8"/>
<rect x="1250.30" y="1298.97" width="28.68" height="28.16" fill="#5560ad"/>
<rect x="1278.97" y="1298.97" width="28.68" height="28.16" fill="#4156a6"/>
<rect x="1307.65" y="1298.97" width="28.68" height="28.16" fill="#4156a6"/>
<rect x="1336.33" y="1298.97" width="28.68" height="28.16" fill="#4156a6"/>
<rect x="1385.40" y="1298.97" width="28.68" height="28.16" fill="#4156a6"/>
<rect x="1414.08" y="1298.97" width="28.68" height="28.16" fill="#4156a6"/>
<rect x="1442.75" y="1298.97" width="28.68" height="28.16" fill="#aaa6d2"/>
<rect x="1471.43" y="1298.97" width="28.68" height="28.16" fill="#4156a6"/>
<rect x="1519.40" y="1297.97" width="28.68" height="28.16" fill="#f19395"/>
<rect x="1548.08" y="1297.97" width="28.68" height="28.16" fill="#f6acae"/>
<rect x="1576.75" y="1297.97" width="28.68" height="28.16" fill="#fdecec"/>
<rect x="1605.43" y="1297.97" width="28.68" height="28.16" fill="#dc2a2a"/>
<rect x="1654.80" y="1297.97" width="28.68" height="28.16" fill="#e54548"/>
<rect x="1683.47" y="1297.97" width="28.68" height="28.16" fill="#dc2a2a"/>
<rect x="1712.15" y="1297.97" width="28.68" height="28.16" fill="#df3334"/>
<rect x="1740.83" y="1297.97" width="28.68" height="28.16" fill="#ef8386"/>
<rect x="1250.30" y="1327.13" width="28.68" height="28.16" fill="#c4c0e0"/>
<rect x="1278.97" y="1327.13" width="28.68" height="28.16" fill="#dddaee"/>
<rect x="1307.65" y="1327.13" width="28.68" height="28.16" fill="#c4c0e0"/>
<rect x="1336.33" y="1327.13" width="28.68" height="28.16" fill="#6366b1"/>
<rect x="1385.40" y="1327.13" width="28.68" height="28.16" fill="#dddaee"/>
<rect x="1414.08" y="1327.13" width="28.68" height="28.16" fill="#d3d0e8"/>
<rect x="1442.75" y="1327.13" width="28.68" height="28.16" fill="#fffcfc"/>
<rect x="1471.43" y="1327.13" width="28.68" height="28.16" fill="#6366b1"/>
<rect x="1519.40" y="1326.13" width="28.68" height="28.16" fill="#f4a0a3"/>
<rect x="1548.08" y="1326.13" width="28.68" height="28.16" fill="#f7b2b4"/>
<rect x="1576.75" y="1326.13" width="28.68" height="28.16" fill="#fdecec"/>
<rect x="1605.43" y="1326.13" width="28.68" height="28.16" fill="#ec6366"/>
<rect x="1654.80" y="1326.13" width="28.68" height="28.16" fill="#f7b2b4"/>
<rect x="1683.47" y="1326.13" width="28.68" height="28.16" fill="#f8bfc1"/>
<rect x="1712.15" y="1326.13" width="28.68" height="28.16" fill="#f2979a"/>
<rect x="1740.83" y="1326.13" width="28.68" height="28.16" fill="#f9c6c7"/>
<rect x="1250.30" y="1355.29" width="28.68" height="28.16" fill="#ee787b"/>
<rect x="1278.97" y="1355.29" width="28.68" height="28.16" fill="#ee7276"/>
<rect x="1307.65" y="1355.29" width="28.68" height="28.16" fill="#dddaee"/>
<rect x="1336.33" y="1355.29" width="28.68" height="28.16" fill="#e23c3e"/>
<rect x="1385.40" y="1355.29" width="28.68" height="28.16" fill="#f9c6c7"/>
<rect x="1414.08" y="1355.29" width="28.68" height="28.16" fill="#fad1d2"/>
<rect x="1442.75" y="1355.29" width="28.68" height="28.16" fill="#f2979a"/>
<rect x="1471.43" y="1355.29" width="28.68" height="28.16" fill="#fffcfc"/>
<rect x="1519.40" y="1354.29" width="28.68" height="28.16" fill="#9a97ca"/>
<rect x="1548.08" y="1354.29" width="28.68" height="28.16" fill="#aaa6d2"/>
<rect x="1576.75" y="1354.29" width="28.68" height="28.16" fill="#cecae6"/>
<rect x="1605.43" y="1354.29" width="28.68" height="28.16" fill="#c9c5e3"/>
<rect x="1654.80" y="1354.29" width="28.68" height="28.16" fill="#d3d0e8"/>
<rect x="1683.47" y="1354.29" width="28.68" height="28.16" fill="#d3d0e8"/>
<rect x="1712.15" y="1354.29" width="28.68" height="28.16" fill="#facccc"/>
<rect x="1740.83" y="1354.29" width="28.68" height="28.16" fill="#fdecec"/>
<rect x="1250.30" y="1383.44" width="28.68" height="28.16" fill="#dddaee"/>
<rect x="1278.97" y="1383.44" width="28.68" height="28.16" fill="#dddaee"/>
<rect x="1307.65" y="1383.44" width="28.68" height="28.16" fill="#d3d0e8"/>
<rect x="1336.33" y="1383.44" width="28.68" height="28.16" fill="#fdf0f0"/>
<rect x="1385.40" y="1383.44" width="28.68" height="28.16" fill="#f9c6c7"/>
<rect x="1414.08" y="1383.44" width="28.68" height="28.16" fill="#fbdcdc"/>
<rect x="1442.75" y="1383.44" width="28.68" height="28.16" fill="#ef8386"/>
<rect x="1471.43" y="1383.44" width="28.68" height="28.16" fill="#fad6d7"/>
<rect x="1519.40" y="1382.44" width="28.68" height="28.16" fill="#f3f2f9"/>
<rect x="1548.08" y="1382.44" width="28.68" height="28.16" fill="#b0acd6"/>
<rect x="1576.75" y="1382.44" width="28.68" height="28.16" fill="#cecae6"/>
<rect x="1605.43" y="1382.44" width="28.68" height="28.16" fill="#c9c5e3"/>
<rect x="1654.80" y="1382.44" width="28.68" height="28.16" fill="#d8d5eb"/>
<rect x="1683.47" y="1382.44" width="28.68" height="28.16" fill="#fbdcdc"/>
<rect x="1712.15" y="1382.44" width="28.68" height="28.16" fill="#e3e1f1"/>
<rect x="1740.83" y="1382.44" width="28.68" height="28.16" fill="#e3e1f1"/>
</g>
<text x="1780.4" y="1040.8" font-size="27.4">EGFR</text>
<text x="1780.8" y="1068.9" font-size="27.4">pEGFR</text>
<text x="1780.4" y="1097.1" font-size="27.4">ESR1</text>
<text x="1780.8" y="1125.2" font-size="27.4">pESR1</text>
<text x="1781.2" y="1153.4" font-size="27.4">GATA3</text>
<text x="1780.8" y="1181.6" font-size="27.4">pGATA3</text>
<text x="1780.4" y="1209.7" font-size="27.4">PGR</text>
<text x="1780.8" y="1237.9" font-size="27.4">pPGR</text>
<text x="1782.0" y="1266.0" font-size="27.4">TP53</text>
<text x="1780.8" y="1294.2" font-size="27.4">pTP53</text>
<text x="1782.5" y="1322.3" font-size="27.4">VIM</text>
<text x="1780.8" y="1350.5" font-size="27.4">pVIM</text>
<text x="1780.4" y="1378.7" font-size="27.4">ERBB2</text>
<text x="1780.8" y="1406.8" font-size="27.4">pERBB2</text>
<polyline points="1367.3,917.7 1367.3,858.3 1637.3,858.3 1637.3,901.0" fill="none" stroke="#000" stroke-width="2"/>
<polyline points="1299.0,933.3 1299.0,917.7 1435.0,917.7 1435.0,929.3" fill="none" stroke="#000" stroke-width="2"/>
<polyline points="1569.3,932.7 1569.3,901.0 1705.0,901.0 1705.0,930.7" fill="none" stroke="#000" stroke-width="2"/>
<polyline points="1270.7,937.3 1270.7,933.3 1328.3,933.3 1328.3,936.0" fill="none" stroke="#000" stroke-width="2"/>
<polyline points="1313.3,938.0 1313.3,936.0 1343.3,936.0 1343.3,938.0" fill="none" stroke="#000" stroke-width="2"/>
<polyline points="1420.0,931.7 1420.0,929.3 1478.3,929.3 1478.3,938.0" fill="none" stroke="#000" stroke-width="2"/>
<polyline points="1406.0,936.0 1406.0,931.7 1449.3,931.7 1449.3,938.0" fill="none" stroke="#000" stroke-width="2"/>
<polyline points="1391.0,938.0 1391.0,936.0 1420.7,936.0 1420.7,938.0" fill="none" stroke="#000" stroke-width="2"/>
<polyline points="1540.7,936.7 1540.7,932.7 1598.3,932.7 1598.3,935.3" fill="none" stroke="#000" stroke-width="2"/>
<polyline points="1584.0,938.0 1584.0,935.3 1613.3,935.3 1613.3,938.0" fill="none" stroke="#000" stroke-width="2"/>
<polyline points="1690.0,938.0 1690.0,930.7 1748.3,930.7 1748.3,938.0" fill="none" stroke="#000" stroke-width="2"/>
<polyline points="1661.7,938.0 1661.7,935.3 1719.3,935.3 1719.3,938.0" fill="none" stroke="#000" stroke-width="2"/>
<line x1="1256.0" y1="937.3" x2="1285.0" y2="937.3" stroke="#000" stroke-width="2.8"/>
<line x1="1526.0" y1="936.7" x2="1556.0" y2="936.7" stroke="#000" stroke-width="2.8"/>
<line x1="1313.3" y1="933.7" x2="1328.3" y2="933.7" stroke="#000" stroke-width="2.8"/>
<line x1="1419.3" y1="929.3" x2="1450.0" y2="929.3" stroke="#000" stroke-width="2.8"/>
<line x1="1584.0" y1="933.0" x2="1598.3" y2="933.0" stroke="#000" stroke-width="2.8"/>
<line x1="1690.0" y1="931.0" x2="1705.0" y2="931.0" stroke="#000" stroke-width="2.8"/>
<defs><linearGradient id="ge" x1="0" y1="0" x2="0" y2="1"><stop offset="0" stop-color="#dc2e30"/><stop offset="0.1" stop-color="#e35c5e"/><stop offset="0.2" stop-color="#ea8486"/><stop offset="0.306" stop-color="#f1acad"/><stop offset="0.383" stop-color="#f7cccd"/><stop offset="0.45" stop-color="#fdeaea"/><stop offset="0.5" stop-color="#ffffff"/><stop offset="0.565" stop-color="#e9eaf5"/><stop offset="0.642" stop-color="#c9cde6"/><stop offset="0.72" stop-color="#a9afd7"/><stop offset="0.823" stop-color="#808bc4"/><stop offset="0.926" stop-color="#5a6bb4"/><stop offset="1" stop-color="#4459ab"/></linearGradient></defs>
<rect x="1168.40" y="1043.60" width="21.40" height="307.20" fill="#d2d2d2"/>
<rect x="1171.50" y="1047.20" width="15.00" height="300.30" fill="url(#ge)"/>
<text transform="translate(1122.5,1197.0) rotate(-90)" font-size="27.4" text-anchor="middle">Normalized protein TMT</text>
<text transform="translate(1154.0,1197.0) rotate(-90)" font-size="27.4" text-anchor="middle">ratio</text>
<text transform="translate(1217.8,1041.0) rotate(-90)" font-size="27.4" text-anchor="middle">2</text>
<text transform="translate(1217.8,1197.0) rotate(-90)" font-size="27.4" text-anchor="middle">0</text>
<text transform="translate(1217.8,1349.4) rotate(-90)" font-size="27.4" text-anchor="middle">–2</text>
</g>
<g id="panel-f">
<text x="0.0" y="1496.9" font-size="46" font-weight="bold">f</text>
<text x="169.9" y="1515.2" font-size="32.0" textLength="688.9" lengthAdjust="spacing">Basal/Luminal — Proteome signatures (MSigDB)</text>
<text x="987.7" y="1515.4" font-size="32.0" textLength="761.0" lengthAdjust="spacing">Basal/Luminal — Phosphosite signatures (PTMsigDB)</text>
<g stroke="#f0f0f0" stroke-width="1.3">
<line x1="220.5" y1="1534.1" x2="220.5" y2="2142.4"/>
<line x1="183.0" y1="2107.1" x2="846.9" y2="2107.1"/>
<line x1="294.1" y1="1534.1" x2="294.1" y2="2142.4" stroke="#f6f6f6" stroke-width="1"/>
<line x1="183.0" y1="2039.8" x2="846.9" y2="2039.8" stroke="#f6f6f6" stroke-width="1"/>
<line x1="367.6" y1="1534.1" x2="367.6" y2="2142.4"/>
<line x1="183.0" y1="1972.5" x2="846.9" y2="1972.5"/>
<line x1="441.2" y1="1534.1" x2="441.2" y2="2142.4" stroke="#f6f6f6" stroke-width="1"/>
<line x1="183.0" y1="1905.1" x2="846.9" y2="1905.1" stroke="#f6f6f6" stroke-width="1"/>
<line x1="588.3" y1="1534.1" x2="588.3" y2="2142.4" stroke="#f6f6f6" stroke-width="1"/>
<line x1="183.0" y1="1770.5" x2="846.9" y2="1770.5" stroke="#f6f6f6" stroke-width="1"/>
<line x1="661.9" y1="1534.1" x2="661.9" y2="2142.4"/>
<line x1="183.0" y1="1703.1" x2="846.9" y2="1703.1"/>
<line x1="735.4" y1="1534.1" x2="735.4" y2="2142.4" stroke="#f6f6f6" stroke-width="1"/>
<line x1="183.0" y1="1635.8" x2="846.9" y2="1635.8" stroke="#f6f6f6" stroke-width="1"/>
<line x1="809.0" y1="1534.1" x2="809.0" y2="2142.4"/>
<line x1="183.0" y1="1568.5" x2="846.9" y2="1568.5"/>
</g>
<g stroke="#222" stroke-width="1.3" shape-rendering="crispEdges">
<line x1="514.8" y1="1534.1" x2="514.8" y2="2142.4"/>
<line x1="183.0" y1="1837.8" x2="846.9" y2="1837.8"/>
</g>
<g fill="#bebebe" fill-opacity="0.57" stroke="#9a9a9a" stroke-opacity="0.14" stroke-width="1">
<circle cx="592.4" cy="1769.2" r="13"/><circle cx="560.8" cy="1785.2" r="13"/><circle cx="532.5" cy="1801.0" r="13"/><circle cx="565.7" cy="1801.0" r="13"/><circle cx="591.0" cy="1807.5" r="13"/><circle cx="588.0" cy="1816.8" r="13"/><circle cx="491.8" cy="1824.0" r="13"/><circle cx="506.4" cy="1827.3" r="13"/><circle cx="479.2" cy="1833.6" r="13"/><circle cx="517.0" cy="1836.0" r="13"/><circle cx="537.4" cy="1839.0" r="13"/><circle cx="541.7" cy="1842.5" r="13"/><circle cx="501.4" cy="1847.5" r="13"/><circle cx="476.0" cy="1855.2" r="13"/><circle cx="510.7" cy="1861.2" r="13"/><circle cx="511.0" cy="1869.2" r="13"/><circle cx="517.2" cy="1877.5" r="13"/><circle cx="480.3" cy="1882.2" r="13"/><circle cx="477.5" cy="1886.8" r="13"/><circle cx="531.5" cy="1889.3" r="13"/><circle cx="521.7" cy="1898.0" r="13"/><circle cx="466.0" cy="1907.8" r="13"/>
</g>
<g fill="#3a3791" fill-opacity="0.6" stroke="#3a3791" stroke-opacity="0.4" stroke-width="1">
<circle cx="575.8" cy="1718.0" r="13"/><circle cx="599.6" cy="1734.0" r="13"/><circle cx="462.8" cy="1917.7" r="13"/>
</g>
<g fill="#3a3791" fill-opacity="0.6" stroke="#3a3791" stroke-opacity="0.4" stroke-width="1">
<circle cx="452.6" cy="1930.9" r="13"/><circle cx="446.0" cy="1933.8" r="13"/><circle cx="449.0" cy="1932.5" r="13"/><circle cx="447.0" cy="1933.0" r="13"/>
</g>
<g fill="#196937" fill-opacity="0.6" stroke="#196937" stroke-opacity="0.4" stroke-width="1">
<circle cx="607.4" cy="1782.0" r="13"/><circle cx="614.8" cy="1784.9" r="13"/><circle cx="614.4" cy="1797.2" r="13"/><circle cx="619.7" cy="1806.3" r="13"/><circle cx="613.0" cy="1790.0" r="13"/>
</g>
<g fill="#8b1a1a" fill-opacity="0.61" stroke="#8b1a1a" stroke-opacity="0.4" stroke-width="1">
<circle cx="751.6" cy="1564.4" r="13"/><circle cx="769.6" cy="1561.1" r="13"/><circle cx="658.7" cy="1637.1" r="13"/><circle cx="736.0" cy="1645.7" r="13"/><circle cx="792.2" cy="1634.2" r="13"/><circle cx="618.5" cy="1699.5" r="13"/><circle cx="680.1" cy="1734.0" r="13"/><circle cx="616.9" cy="1760.3" r="13"/><circle cx="423.4" cy="1962.9" r="13"/><circle cx="345.8" cy="1999.1" r="13"/><circle cx="386.9" cy="1994.1" r="13"/><circle cx="380.3" cy="1999.9" r="13"/><circle cx="347.4" cy="2021.2" r="13"/><circle cx="378.6" cy="2021.7" r="13"/>
</g>
<rect x="183.0" y="1534.1" width="663.9" height="608.3" fill="none" stroke="#2b2b2b" stroke-width="1.8"/>
<g stroke="#000" stroke-width="3.2">
<line x1="220.5" y1="2142.4" x2="220.5" y2="2148.9"/>
<line x1="176.5" y1="2107.1" x2="183.0" y2="2107.1"/>
<line x1="367.6" y1="2142.4" x2="367.6" y2="2148.9"/>
<line x1="176.5" y1="1972.5" x2="183.0" y2="1972.5"/>
<line x1="514.8" y1="2142.4" x2="514.8" y2="2148.9"/>
<line x1="176.5" y1="1837.8" x2="183.0" y2="1837.8"/>
<line x1="661.9" y1="2142.4" x2="661.9" y2="2148.9"/>
<line x1="176.5" y1="1703.1" x2="183.0" y2="1703.1"/>
<line x1="809.0" y1="2142.4" x2="809.0" y2="2148.9"/>
<line x1="176.5" y1="1568.5" x2="183.0" y2="1568.5"/>
</g>
<text x="220.5" y="2185.7" font-size="32.0" text-anchor="middle">–10</text>
<text x="367.6" y="2185.7" font-size="32.0" text-anchor="middle">5</text>
<text x="514.8" y="2185.7" font-size="32.0" text-anchor="middle">0</text>
<text x="661.9" y="2185.7" font-size="32.0" text-anchor="middle">5</text>
<text x="809.0" y="2185.7" font-size="32.0" text-anchor="middle">10</text>
<text x="164.5" y="2117.7" font-size="32.0" text-anchor="end">–10</text>
<text x="164.5" y="1983.0" font-size="32.0" text-anchor="end">–5</text>
<text x="164.5" y="1848.4" font-size="32.0" text-anchor="end">0</text>
<text x="164.5" y="1713.7" font-size="32.0" text-anchor="end">5</text>
<text x="164.5" y="1579.1" font-size="32.0" text-anchor="end">10</text>
<line x1="580.7" y1="1552.0" x2="752.4" y2="1543.4" stroke="#000" stroke-width="2.1"/>
<line x1="579.5" y1="1576.7" x2="736.8" y2="1569.3" stroke="#000" stroke-width="2.1"/>
<line x1="351.9" y1="2004.8" x2="400.0" y2="2021.2" stroke="#000" stroke-width="2.1"/>
<line x1="378.6" y1="2022.1" x2="456.3" y2="2100.5" stroke="#000" stroke-width="2.1"/>
<line x1="347.4" y1="2021.2" x2="409.0" y2="2100.5" stroke="#000" stroke-width="2.1"/>
<text x="412.5" y="1561.0" font-size="22.65" textLength="162.3" lengthAdjust="spacing">E2F_TARGETS</text>
<text x="361.9" y="1587.8" font-size="22.65" textLength="211.7" lengthAdjust="spacing">G2M_CHECKPOINT</text>
<text x="366.5" y="1613.6" font-size="22.65" textLength="465.3" lengthAdjust="spacing">EPITHELIAL_MESENCHYMAL_TRANSITION</text>
<text x="631.4" y="1681.0" font-size="22.65" textLength="212.0" lengthAdjust="spacing">MYC_TARGETS_V2</text>
<text x="189.9" y="1919.4" font-size="22.65">ESTROGEN_</text>
<text x="189.9" y="1945.3" font-size="22.65">RESPONSE_EARLY</text>
<text x="404.3" y="2031.5" font-size="22.65">PEROXISOME</text>
<text x="461.3" y="2101.9" font-size="22.65" textLength="359.7" lengthAdjust="spacing">OXIDATIVE_PHOSPHORYLATION</text>
<text x="196.0" y="2128.9" font-size="22.65" textLength="300.8" lengthAdjust="spacing">FATTY_ACID_METABOLISM</text>
<text x="514.9" y="2238.8" font-size="32.0" text-anchor="middle">Cores (NES)</text>
<text transform="translate(83.1,1841.5) rotate(-90)" font-size="32.0" text-anchor="middle">Bulk (NES)</text>
<g stroke="#ececec" stroke-width="1.3">
<line x1="1070.4" y1="1539.0" x2="1070.4" y2="2144.1"/>
<line x1="1039.2" y1="2115.5" x2="1699.7" y2="2115.5"/>
<line x1="1145.2" y1="1539.0" x2="1145.2" y2="2144.1" stroke="#f3f3f3" stroke-width="1"/>
<line x1="1039.2" y1="2047.0" x2="1699.7" y2="2047.0" stroke="#f3f3f3" stroke-width="1"/>
<line x1="1219.9" y1="1539.0" x2="1219.9" y2="2144.1"/>
<line x1="1039.2" y1="1978.5" x2="1699.7" y2="1978.5"/>
<line x1="1294.7" y1="1539.0" x2="1294.7" y2="2144.1" stroke="#f3f3f3" stroke-width="1"/>
<line x1="1039.2" y1="1909.9" x2="1699.7" y2="1909.9" stroke="#f3f3f3" stroke-width="1"/>
<line x1="1444.2" y1="1539.0" x2="1444.2" y2="2144.1" stroke="#f3f3f3" stroke-width="1"/>
<line x1="1039.2" y1="1772.9" x2="1699.7" y2="1772.9" stroke="#f3f3f3" stroke-width="1"/>
<line x1="1518.9" y1="1539.0" x2="1518.9" y2="2144.1"/>
<line x1="1039.2" y1="1704.4" x2="1699.7" y2="1704.4"/>
<line x1="1593.7" y1="1539.0" x2="1593.7" y2="2144.1" stroke="#f3f3f3" stroke-width="1"/>
<line x1="1039.2" y1="1635.8" x2="1699.7" y2="1635.8" stroke="#f3f3f3" stroke-width="1"/>
<line x1="1668.4" y1="1539.0" x2="1668.4" y2="2144.1"/>
<line x1="1039.2" y1="1567.3" x2="1699.7" y2="1567.3"/>
</g>
<g stroke="#222" stroke-width="1.3" shape-rendering="crispEdges">
<line x1="1369.4" y1="1539.0" x2="1369.4" y2="2144.1"/>
<line x1="1039.2" y1="1841.4" x2="1699.7" y2="1841.4"/>
</g>
<g fill="#bebebe" fill-opacity="0.57" stroke="#9a9a9a" stroke-opacity="0.14" stroke-width="1">
<circle cx="1420.4" cy="1739.0" r="13"/><circle cx="1380.6" cy="1761.5" r="13"/><circle cx="1454.3" cy="1758.1" r="13"/><circle cx="1349.7" cy="1774.7" r="13"/><circle cx="1383.8" cy="1773.3" r="13"/><circle cx="1426.7" cy="1766.7" r="13"/><circle cx="1398.1" cy="1780.0" r="13"/><circle cx="1436.2" cy="1776.2" r="13"/><circle cx="1445.7" cy="1783.8" r="13"/><circle cx="1451.4" cy="1799.0" r="13"/><circle cx="1437.1" cy="1820.0" r="13"/><circle cx="1323.8" cy="1803.8" r="13"/><circle cx="1343.8" cy="1821.0" r="13"/><circle cx="1322.9" cy="1827.6" r="13"/><circle cx="1365.7" cy="1816.2" r="13"/><circle cx="1388.6" cy="1806.7" r="13"/><circle cx="1409.5" cy="1799.0" r="13"/><circle cx="1424.8" cy="1795.2" r="13"/><circle cx="1405.7" cy="1821.9" r="13"/><circle cx="1390.5" cy="1818.1" r="13"/><circle cx="1305.3" cy="1843.2" r="13"/><circle cx="1302.9" cy="1855.2" r="13"/><circle cx="1327.6" cy="1840.0" r="13"/><circle cx="1344.8" cy="1833.3" r="13"/><circle cx="1361.9" cy="1841.0" r="13"/><circle cx="1371.4" cy="1846.7" r="13"/><circle cx="1300.0" cy="1871.4" r="13"/><circle cx="1320.0" cy="1867.6" r="13"/><circle cx="1341.0" cy="1861.9" r="13"/><circle cx="1356.2" cy="1856.2" r="13"/><circle cx="1390.5" cy="1861.9" r="13"/><circle cx="1383.8" cy="1850.5" r="13"/><circle cx="1419.0" cy="1844.8" r="13"/><circle cx="1421.9" cy="1854.3" r="13"/><circle cx="1430.5" cy="1869.5" r="13"/><circle cx="1442.5" cy="1868.8" r="13"/><circle cx="1264.2" cy="1881.9" r="13"/><circle cx="1271.4" cy="1890.5" r="13"/><circle cx="1281.9" cy="1901.9" r="13"/><circle cx="1287.6" cy="1903.8" r="13"/><circle cx="1302.9" cy="1898.1" r="13"/><circle cx="1314.3" cy="1896.2" r="13"/><circle cx="1331.4" cy="1890.5" r="13"/><circle cx="1344.8" cy="1882.9" r="13"/><circle cx="1364.8" cy="1887.6" r="13"/><circle cx="1386.7" cy="1907.0" r="13"/><circle cx="1367.6" cy="1909.5" r="13"/><circle cx="1352.4" cy="1905.7" r="13"/><circle cx="1341.0" cy="1915.2" r="13"/><circle cx="1337.1" cy="1871.4" r="13"/><circle cx="1333.3" cy="1852.4" r="13"/><circle cx="1348.6" cy="1848.6" r="13"/><circle cx="1401.9" cy="1814.3" r="13"/><circle cx="1415.2" cy="1806.7" r="13"/><circle cx="1428.6" cy="1785.7" r="13"/><circle cx="1419.0" cy="1780.0" r="13"/><circle cx="1390.5" cy="1791.4" r="13"/><circle cx="1382.9" cy="1799.0" r="13"/><circle cx="1379.0" cy="1814.3" r="13"/><circle cx="1410.5" cy="1831.4" r="13"/><circle cx="1401.9" cy="1833.3" r="13"/><circle cx="1434.3" cy="1806.7" r="13"/><circle cx="1441.9" cy="1795.2" r="13"/><circle cx="1422.9" cy="1818.1" r="13"/><circle cx="1373.3" cy="1831.4" r="13"/><circle cx="1356.2" cy="1833.3" r="13"/><circle cx="1331.4" cy="1909.5" r="13"/><circle cx="1321.9" cy="1921.0" r="13"/><circle cx="1358.1" cy="1919.0" r="13"/><circle cx="1346.7" cy="1898.1" r="13"/><circle cx="1316.2" cy="1882.9" r="13"/><circle cx="1306.7" cy="1886.7" r="13"/><circle cx="1352.4" cy="1871.4" r="13"/><circle cx="1361.9" cy="1865.7" r="13"/><circle cx="1331.4" cy="1877.1" r="13"/><circle cx="1330.4" cy="1890.0" r="13"/><circle cx="1349.7" cy="1851.6" r="13"/><circle cx="1325.7" cy="1888.9" r="13"/><circle cx="1356.0" cy="1869.2" r="13"/><circle cx="1317.6" cy="1879.6" r="13"/><circle cx="1353.9" cy="1861.9" r="13"/><circle cx="1367.6" cy="1852.8" r="13"/><circle cx="1338.6" cy="1869.4" r="13"/><circle cx="1363.3" cy="1838.0" r="13"/><circle cx="1323.8" cy="1874.2" r="13"/><circle cx="1344.2" cy="1869.0" r="13"/><circle cx="1337.4" cy="1874.3" r="13"/><circle cx="1350.5" cy="1869.7" r="13"/><circle cx="1356.5" cy="1854.5" r="13"/><circle cx="1326.2" cy="1900.4" r="13"/><circle cx="1323.8" cy="1889.6" r="13"/><circle cx="1324.5" cy="1891.4" r="13"/><circle cx="1334.4" cy="1882.4" r="13"/><circle cx="1365.1" cy="1839.5" r="13"/><circle cx="1341.6" cy="1848.9" r="13"/><circle cx="1343.6" cy="1877.9" r="13"/><circle cx="1343.7" cy="1873.2" r="13"/><circle cx="1335.4" cy="1861.8" r="13"/><circle cx="1342.3" cy="1856.2" r="13"/><circle cx="1360.1" cy="1838.6" r="13"/><circle cx="1350.0" cy="1859.3" r="13"/><circle cx="1348.5" cy="1851.7" r="13"/><circle cx="1352.7" cy="1853.9" r="13"/><circle cx="1361.6" cy="1854.6" r="13"/><circle cx="1337.5" cy="1862.6" r="13"/><circle cx="1354.6" cy="1861.0" r="13"/><circle cx="1358.4" cy="1842.8" r="13"/><circle cx="1352.4" cy="1864.4" r="13"/><circle cx="1346.9" cy="1866.6" r="13"/><circle cx="1339.4" cy="1863.1" r="13"/><circle cx="1326.9" cy="1882.2" r="13"/><circle cx="1360.6" cy="1870.0" r="13"/><circle cx="1361.6" cy="1861.5" r="13"/><circle cx="1356.5" cy="1862.3" r="13"/><circle cx="1350.0" cy="1871.5" r="13"/><circle cx="1360.3" cy="1841.2" r="13"/><circle cx="1348.9" cy="1891.9" r="13"/><circle cx="1352.3" cy="1871.9" r="13"/><circle cx="1343.5" cy="1849.6" r="13"/><circle cx="1379.2" cy="1850.7" r="13"/><circle cx="1349.8" cy="1871.5" r="13"/><circle cx="1336.6" cy="1862.2" r="13"/><circle cx="1343.5" cy="1873.5" r="13"/><circle cx="1360.6" cy="1857.3" r="13"/><circle cx="1353.1" cy="1877.0" r="13"/><circle cx="1339.0" cy="1885.7" r="13"/><circle cx="1352.8" cy="1851.2" r="13"/><circle cx="1313.8" cy="1890.6" r="13"/><circle cx="1348.8" cy="1869.2" r="13"/><circle cx="1352.4" cy="1840.4" r="13"/><circle cx="1346.9" cy="1873.5" r="13"/><circle cx="1324.6" cy="1859.6" r="13"/><circle cx="1366.9" cy="1869.8" r="13"/><circle cx="1346.7" cy="1849.0" r="13"/><circle cx="1338.7" cy="1877.0" r="13"/><circle cx="1370.3" cy="1843.6" r="13"/><circle cx="1355.3" cy="1877.4" r="13"/><circle cx="1355.3" cy="1882.2" r="13"/><circle cx="1330.1" cy="1876.8" r="13"/><circle cx="1361.4" cy="1867.6" r="13"/><circle cx="1352.0" cy="1861.7" r="13"/><circle cx="1314.9" cy="1892.2" r="13"/><circle cx="1330.6" cy="1875.3" r="13"/><circle cx="1346.2" cy="1858.8" r="13"/><circle cx="1351.8" cy="1858.3" r="13"/><circle cx="1338.9" cy="1875.2" r="13"/><circle cx="1353.6" cy="1868.4" r="13"/><circle cx="1334.5" cy="1875.2" r="13"/><circle cx="1338.2" cy="1899.6" r="13"/><circle cx="1357.7" cy="1846.9" r="13"/><circle cx="1326.7" cy="1869.0" r="13"/><circle cx="1345.5" cy="1868.3" r="13"/><circle cx="1367.4" cy="1841.3" r="13"/><circle cx="1317.3" cy="1868.8" r="13"/><circle cx="1360.0" cy="1849.7" r="13"/><circle cx="1324.3" cy="1894.5" r="13"/><circle cx="1338.4" cy="1905.7" r="13"/><circle cx="1359.5" cy="1856.4" r="13"/><circle cx="1324.4" cy="1859.8" r="13"/><circle cx="1328.4" cy="1861.9" r="13"/><circle cx="1333.5" cy="1848.4" r="13"/><circle cx="1340.6" cy="1890.5" r="13"/><circle cx="1352.2" cy="1837.8" r="13"/><circle cx="1330.6" cy="1897.7" r="13"/><circle cx="1344.4" cy="1850.8" r="13"/><circle cx="1328.3" cy="1875.6" r="13"/><circle cx="1322.6" cy="1883.0" r="13"/><circle cx="1362.0" cy="1855.2" r="13"/><circle cx="1364.9" cy="1839.3" r="13"/><circle cx="1332.7" cy="1865.5" r="13"/><circle cx="1396.6" cy="1796.0" r="13"/><circle cx="1381.4" cy="1832.6" r="13"/><circle cx="1435.7" cy="1798.5" r="13"/><circle cx="1430.3" cy="1794.3" r="13"/><circle cx="1395.3" cy="1815.4" r="13"/><circle cx="1393.7" cy="1800.6" r="13"/><circle cx="1369.6" cy="1811.7" r="13"/><circle cx="1407.5" cy="1808.1" r="13"/><circle cx="1407.5" cy="1825.0" r="13"/><circle cx="1413.2" cy="1810.0" r="13"/><circle cx="1421.9" cy="1785.7" r="13"/><circle cx="1378.5" cy="1835.2" r="13"/><circle cx="1403.2" cy="1826.3" r="13"/><circle cx="1418.4" cy="1812.2" r="13"/><circle cx="1407.2" cy="1779.9" r="13"/><circle cx="1414.5" cy="1792.6" r="13"/><circle cx="1391.5" cy="1811.0" r="13"/><circle cx="1424.8" cy="1806.3" r="13"/><circle cx="1413.4" cy="1780.3" r="13"/><circle cx="1384.7" cy="1794.8" r="13"/><circle cx="1408.6" cy="1813.3" r="13"/><circle cx="1395.5" cy="1817.3" r="13"/><circle cx="1416.6" cy="1813.4" r="13"/><circle cx="1388.0" cy="1808.1" r="13"/><circle cx="1404.6" cy="1831.1" r="13"/><circle cx="1424.0" cy="1793.5" r="13"/><circle cx="1411.1" cy="1805.2" r="13"/><circle cx="1408.8" cy="1802.5" r="13"/><circle cx="1393.5" cy="1798.8" r="13"/><circle cx="1406.0" cy="1828.9" r="13"/><circle cx="1416.0" cy="1801.4" r="13"/><circle cx="1403.5" cy="1809.6" r="13"/><circle cx="1408.6" cy="1796.9" r="13"/><circle cx="1411.4" cy="1806.7" r="13"/><circle cx="1389.4" cy="1807.7" r="13"/><circle cx="1383.6" cy="1807.9" r="13"/><circle cx="1409.3" cy="1778.5" r="13"/><circle cx="1398.5" cy="1804.0" r="13"/><circle cx="1397.0" cy="1814.4" r="13"/><circle cx="1425.9" cy="1795.0" r="13"/><circle cx="1400.6" cy="1802.6" r="13"/><circle cx="1410.1" cy="1816.4" r="13"/><circle cx="1393.2" cy="1800.5" r="13"/><circle cx="1379.0" cy="1810.4" r="13"/><circle cx="1390.3" cy="1832.0" r="13"/><circle cx="1411.1" cy="1800.6" r="13"/><circle cx="1426.9" cy="1784.6" r="13"/><circle cx="1424.0" cy="1805.7" r="13"/><circle cx="1371.5" cy="1809.4" r="13"/><circle cx="1396.8" cy="1825.2" r="13"/><circle cx="1420.7" cy="1781.2" r="13"/><circle cx="1421.7" cy="1791.6" r="13"/><circle cx="1396.8" cy="1805.9" r="13"/><circle cx="1390.2" cy="1793.6" r="13"/><circle cx="1382.5" cy="1806.4" r="13"/><circle cx="1427.0" cy="1819.6" r="13"/><circle cx="1437.8" cy="1781.6" r="13"/><circle cx="1375.6" cy="1821.9" r="13"/><circle cx="1403.1" cy="1835.2" r="13"/><circle cx="1411.7" cy="1793.7" r="13"/><circle cx="1425.5" cy="1801.3" r="13"/><circle cx="1376.5" cy="1819.7" r="13"/><circle cx="1402.8" cy="1809.5" r="13"/><circle cx="1406.8" cy="1802.1" r="13"/><circle cx="1406.3" cy="1799.2" r="13"/><circle cx="1401.0" cy="1830.4" r="13"/><circle cx="1415.3" cy="1806.7" r="13"/><circle cx="1379.2" cy="1822.7" r="13"/><circle cx="1412.4" cy="1785.8" r="13"/><circle cx="1422.5" cy="1791.0" r="13"/><circle cx="1412.5" cy="1801.0" r="13"/><circle cx="1417.6" cy="1815.3" r="13"/><circle cx="1409.5" cy="1825.4" r="13"/><circle cx="1388.0" cy="1806.7" r="13"/><circle cx="1412.0" cy="1789.1" r="13"/><circle cx="1406.0" cy="1819.1" r="13"/><circle cx="1416.0" cy="1777.1" r="13"/><circle cx="1426.5" cy="1818.4" r="13"/><circle cx="1425.0" cy="1791.3" r="13"/><circle cx="1394.9" cy="1810.6" r="13"/><circle cx="1385.9" cy="1816.9" r="13"/><circle cx="1402.7" cy="1807.4" r="13"/><circle cx="1424.9" cy="1791.5" r="13"/><circle cx="1388.9" cy="1832.3" r="13"/><circle cx="1386.1" cy="1814.4" r="13"/><circle cx="1402.4" cy="1805.0" r="13"/><circle cx="1388.5" cy="1815.4" r="13"/><circle cx="1436.2" cy="1779.1" r="13"/><circle cx="1411.2" cy="1818.5" r="13"/><circle cx="1423.7" cy="1805.5" r="13"/><circle cx="1409.0" cy="1779.1" r="13"/><circle cx="1393.1" cy="1817.3" r="13"/><circle cx="1422.8" cy="1813.0" r="13"/><circle cx="1413.0" cy="1799.3" r="13"/><circle cx="1406.0" cy="1804.3" r="13"/><circle cx="1414.9" cy="1810.1" r="13"/><circle cx="1396.1" cy="1802.9" r="13"/><circle cx="1399.1" cy="1826.1" r="13"/><circle cx="1434.0" cy="1801.7" r="13"/><circle cx="1426.0" cy="1804.9" r="13"/><circle cx="1375.2" cy="1843.3" r="13"/><circle cx="1361.4" cy="1845.8" r="13"/><circle cx="1369.4" cy="1849.3" r="13"/><circle cx="1365.9" cy="1842.8" r="13"/><circle cx="1382.6" cy="1844.6" r="13"/><circle cx="1359.3" cy="1839.2" r="13"/><circle cx="1372.0" cy="1825.8" r="13"/><circle cx="1372.0" cy="1832.0" r="13"/><circle cx="1360.1" cy="1828.3" r="13"/><circle cx="1374.6" cy="1830.4" r="13"/><circle cx="1375.3" cy="1858.6" r="13"/><circle cx="1388.9" cy="1846.3" r="13"/><circle cx="1372.9" cy="1833.7" r="13"/><circle cx="1381.6" cy="1848.4" r="13"/><circle cx="1373.8" cy="1842.1" r="13"/><circle cx="1370.6" cy="1829.3" r="13"/><circle cx="1369.6" cy="1834.9" r="13"/><circle cx="1365.9" cy="1854.1" r="13"/><circle cx="1377.5" cy="1834.4" r="13"/><circle cx="1352.3" cy="1833.3" r="13"/><circle cx="1375.0" cy="1834.7" r="13"/><circle cx="1356.8" cy="1851.6" r="13"/><circle cx="1358.4" cy="1850.5" r="13"/><circle cx="1374.7" cy="1840.2" r="13"/><circle cx="1374.2" cy="1838.5" r="13"/>
</g>
<g fill="#3a3791" fill-opacity="0.6" stroke="#3a3791" stroke-opacity="0.4" stroke-width="1">
<circle cx="1391.4" cy="1737.4" r="13"/><circle cx="1446.9" cy="1730.4" r="13"/><circle cx="1269.4" cy="1940.9" r="13"/><circle cx="1286.7" cy="1932.7" r="13"/><circle cx="1292.9" cy="1934.7" r="13"/><circle cx="1314.6" cy="1927.7" r="13"/><circle cx="1319.6" cy="1930.6" r="13"/><circle cx="1310.5" cy="1963.5" r="13"/><circle cx="1290.0" cy="1936.0" r="13"/>
</g>
<g fill="#bebebe" fill-opacity="0.57" stroke="#9a9a9a" stroke-opacity="0.14" stroke-width="1">
<circle cx="1277.1" cy="1919.0" r="13"/><circle cx="1293.3" cy="1922.9" r="13"/><circle cx="1306.7" cy="1931.4" r="13"/><circle cx="1321.9" cy="1924.8" r="13"/>
</g>
<g fill="#8b1a1a" fill-opacity="0.61" stroke="#8b1a1a" stroke-opacity="0.4" stroke-width="1">
<circle cx="1635.0" cy="1565.3" r="13"/><circle cx="1589.4" cy="1588.3" r="13"/><circle cx="1519.6" cy="1682.8" r="13"/><circle cx="1466.2" cy="1738.2" r="13"/><circle cx="1468.6" cy="1746.9" r="13"/><circle cx="1473.6" cy="1755.9" r="13"/><circle cx="1468.0" cy="1745.0" r="13"/><circle cx="1259.2" cy="1936.0" r="13"/><circle cx="1253.0" cy="1940.0" r="13"/><circle cx="1235.4" cy="1946.2" r="13"/><circle cx="1231.2" cy="1963.5" r="13"/><circle cx="1256.0" cy="1938.0" r="13"/>
</g>
<rect x="1039.2" y="1539.0" width="660.5" height="605.1" fill="none" stroke="#2b2b2b" stroke-width="1.8"/>
<g stroke="#000" stroke-width="3.2">
<line x1="1070.4" y1="2144.1" x2="1070.4" y2="2150.6"/>
<line x1="1032.7" y1="2115.5" x2="1039.2" y2="2115.5"/>
<line x1="1219.9" y1="2144.1" x2="1219.9" y2="2150.6"/>
<line x1="1032.7" y1="1978.5" x2="1039.2" y2="1978.5"/>
<line x1="1369.4" y1="2144.1" x2="1369.4" y2="2150.6"/>
<line x1="1032.7" y1="1841.4" x2="1039.2" y2="1841.4"/>
<line x1="1518.9" y1="2144.1" x2="1518.9" y2="2150.6"/>
<line x1="1032.7" y1="1704.4" x2="1039.2" y2="1704.4"/>
<line x1="1668.4" y1="2144.1" x2="1668.4" y2="2150.6"/>
<line x1="1032.7" y1="1567.3" x2="1039.2" y2="1567.3"/>
</g>
<text x="1070.4" y="2185.7" font-size="32.0" text-anchor="middle">–10</text>
<text x="1219.9" y="2185.7" font-size="32.0" text-anchor="middle">5</text>
<text x="1369.4" y="2185.7" font-size="32.0" text-anchor="middle">0</text>
<text x="1518.9" y="2185.7" font-size="32.0" text-anchor="middle">5</text>
<text x="1668.4" y="2185.7" font-size="32.0" text-anchor="middle">10</text>
<text x="1020.7" y="2126.1" font-size="32.0" text-anchor="end">–10</text>
<text x="1020.7" y="1989.0" font-size="32.0" text-anchor="end">–5</text>
<text x="1020.7" y="1852.0" font-size="32.0" text-anchor="end">0</text>
<text x="1020.7" y="1715.0" font-size="32.0" text-anchor="end">5</text>
<text x="1020.7" y="1577.9" font-size="32.0" text-anchor="end">10</text>
<line x1="1593.5" y1="1556.7" x2="1644.0" y2="1558.7" stroke="#000" stroke-width="2.1"/>
<line x1="1316.3" y1="1562.9" x2="1589.8" y2="1588.3" stroke="#000" stroke-width="2.1"/>
<line x1="1479.7" y1="1644.2" x2="1520.0" y2="1682.4" stroke="#000" stroke-width="2.1"/>
<line x1="1433.7" y1="1687.3" x2="1467.0" y2="1738.2" stroke="#000" stroke-width="2.1"/>
<line x1="1259.2" y1="1936.0" x2="1356.5" y2="1933.5" stroke="#000" stroke-width="2.1"/>
<line x1="1254.7" y1="1940.1" x2="1283.8" y2="1965.5" stroke="#000" stroke-width="2.1"/>
<line x1="1237.4" y1="1947.0" x2="1301.9" y2="2016.9" stroke="#000" stroke-width="2.1"/>
<line x1="1231.2" y1="1964.3" x2="1290.0" y2="2067.4" stroke="#000" stroke-width="2.1"/>
<text x="1369.0" y="1563.7" font-size="23.0" textLength="219.8" lengthAdjust="spacing">KINASE –PSP_CDK1</text>
<text x="1061.0" y="1572.3" font-size="23.0" textLength="221.9" lengthAdjust="spacing">KINASE –PSP_CDK2</text>
<text x="1201.4" y="1636.0" font-size="23.0" textLength="297.1" lengthAdjust="spacing">PERT –PSP_NOCODAZOLE</text>
<text x="1207.6" y="1693.0" font-size="23.0" textLength="204.6" lengthAdjust="spacing">KINASE –PSP_TTK</text>
<text x="1356.7" y="1939.7" font-size="23.0" textLength="297.4" lengthAdjust="spacing">PATH –NP_TIE2_PATHWAY</text>
<text x="1135.7" y="1992.2" font-size="23.0" textLength="518.4" lengthAdjust="spacing">PATH –NP_ANDROGEN_RECEPTOR_PATHWAY</text>
<text x="1234.3" y="2042.3" font-size="23.0" textLength="224.8" lengthAdjust="spacing">KINASE –PSP_PKCD</text>
<text x="1173.9" y="2093.7" font-size="23.0" textLength="233.0" lengthAdjust="spacing">KINASE –PSP_EEF2K</text>
<text x="1369.5" y="2238.8" font-size="32.0" text-anchor="middle">Cores (NES)</text>
<text transform="translate(939.8,1841.0) rotate(-90)" font-size="32.0" text-anchor="middle">Bulk (NES)</text>
<rect x="706.5" y="2266.3" width="361" height="205" fill="#fff" stroke="#9a9a9a" stroke-width="1.3"/>
<text x="726.7" y="2300.3" font-size="31.6" style="font-kerning:none">F.</text>
<circle cx="803" cy="2305.8" r="16.3" fill="#8b89bd"/>
<text x="829.1" y="2315.8" font-size="27.2">Bulk</text>
<circle cx="803" cy="2350.8" r="16.3" fill="#75a587"/>
<text x="829.9" y="2361.3" font-size="27.2">Core</text>
<circle cx="803" cy="2397.5" r="16.3" fill="#b87376"/>
<text x="829.1" y="2407.0" font-size="27.2">Bulk and Core</text>
<circle cx="803" cy="2445.5" r="16.3" fill="#d9d9d9"/>
<text x="829.1" y="2456.3" font-size="27.2">Not significant.</text>
</g>
</svg>
</body></html>
